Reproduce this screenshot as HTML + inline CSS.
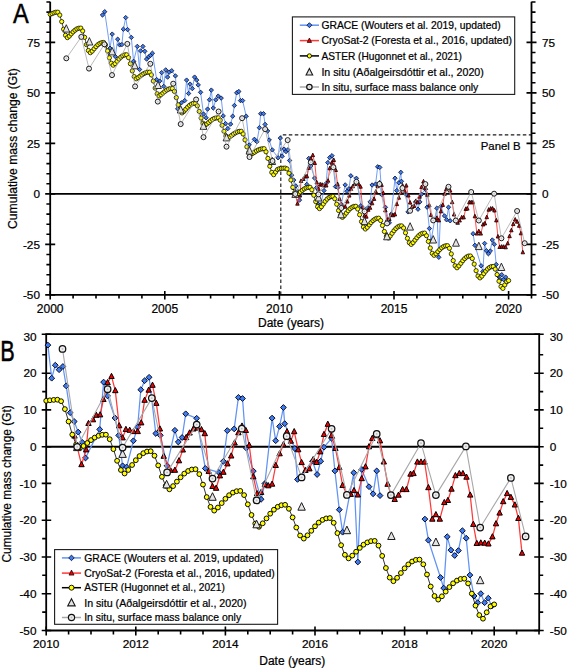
<!DOCTYPE html><html><head><meta charset="utf-8"><style>html,body{margin:0;padding:0;background:#fff;width:567px;height:668px;overflow:hidden;position:relative}</style></head><body><svg width="567" height="668" viewBox="0 0 567 668" style="position:absolute;left:0;top:0">
<rect width="567" height="668" fill="#fff"/>
<path d="M50.2 193.9H531.5" stroke="#000" stroke-width="1.9"/>
<path d="M280.8 294.9V134.9H531.5" fill="none" stroke="#1a1a1a" stroke-width="1.15" stroke-dasharray="3.5,2.5"/>
<path d="M50.2 1.7V294.9H531.5V1.7" fill="none" stroke="#000" stroke-width="1.8"/>
<path d="M45.2 294.9H55.2M526.5 294.9H536.5M46.400000000000006 284.8H50.2M531.5 284.8H535.5M46.400000000000006 274.7H50.2M531.5 274.7H535.5M46.400000000000006 264.6H50.2M531.5 264.6H535.5M46.400000000000006 254.5H50.2M531.5 254.5H535.5M45.2 244.4H55.2M526.5 244.4H536.5M46.400000000000006 234.3H50.2M531.5 234.3H535.5M46.400000000000006 224.2H50.2M531.5 224.2H535.5M46.400000000000006 214.1H50.2M531.5 214.1H535.5M46.400000000000006 204.0H50.2M531.5 204.0H535.5M45.2 193.9H55.2M526.5 193.9H536.5M46.400000000000006 183.8H50.2M531.5 183.8H535.5M46.400000000000006 173.7H50.2M531.5 173.7H535.5M46.400000000000006 163.6H50.2M531.5 163.6H535.5M46.400000000000006 153.5H50.2M531.5 153.5H535.5M45.2 143.4H55.2M526.5 143.4H536.5M46.400000000000006 133.3H50.2M531.5 133.3H535.5M46.400000000000006 123.2H50.2M531.5 123.2H535.5M46.400000000000006 113.1H50.2M531.5 113.1H535.5M46.400000000000006 103.0H50.2M531.5 103.0H535.5M45.2 92.9H55.2M526.5 92.9H536.5M46.400000000000006 82.8H50.2M531.5 82.8H535.5M46.400000000000006 72.7H50.2M531.5 72.7H535.5M46.400000000000006 62.6H50.2M531.5 62.6H535.5M46.400000000000006 52.5H50.2M531.5 52.5H535.5M45.2 42.4H55.2M526.5 42.4H536.5M46.400000000000006 32.3H50.2M531.5 32.3H535.5M46.400000000000006 22.2H50.2M531.5 22.2H535.5M46.400000000000006 12.1H50.2M531.5 12.1H535.5M46.400000000000006 2.0H50.2M531.5 2.0H535.5M50.2 290.9V299.4M73.1 294.9V298.4M96.0 294.9V298.4M119.0 294.9V298.4M141.9 294.9V298.4M164.8 290.9V299.4M187.7 294.9V298.4M210.6 294.9V298.4M233.6 294.9V298.4M256.5 294.9V298.4M279.4 290.9V299.4M302.3 294.9V298.4M325.2 294.9V298.4M348.2 294.9V298.4M371.1 294.9V298.4M394.0 290.9V299.4M416.9 294.9V298.4M439.8 294.9V298.4M462.8 294.9V298.4M485.7 294.9V298.4M508.6 290.9V299.4M531.5 294.9V298.4" stroke="#000" stroke-width="1.6"/>
<text x="40" y="299.1" font-family="Liberation Sans, sans-serif" stroke="#000" stroke-width="0.22" font-size="11.8" text-anchor="end">-50</text>
<text x="542" y="299.1" font-family="Liberation Sans, sans-serif" stroke="#000" stroke-width="0.22" font-size="11.8">-50</text>
<text x="40" y="248.6" font-family="Liberation Sans, sans-serif" stroke="#000" stroke-width="0.22" font-size="11.8" text-anchor="end">-25</text>
<text x="542" y="248.6" font-family="Liberation Sans, sans-serif" stroke="#000" stroke-width="0.22" font-size="11.8">-25</text>
<text x="40" y="198.1" font-family="Liberation Sans, sans-serif" stroke="#000" stroke-width="0.22" font-size="11.8" text-anchor="end">0</text>
<text x="542" y="198.1" font-family="Liberation Sans, sans-serif" stroke="#000" stroke-width="0.22" font-size="11.8">0</text>
<text x="40" y="147.6" font-family="Liberation Sans, sans-serif" stroke="#000" stroke-width="0.22" font-size="11.8" text-anchor="end">25</text>
<text x="542" y="147.6" font-family="Liberation Sans, sans-serif" stroke="#000" stroke-width="0.22" font-size="11.8">25</text>
<text x="40" y="97.1" font-family="Liberation Sans, sans-serif" stroke="#000" stroke-width="0.22" font-size="11.8" text-anchor="end">50</text>
<text x="542" y="97.1" font-family="Liberation Sans, sans-serif" stroke="#000" stroke-width="0.22" font-size="11.8">50</text>
<text x="40" y="46.6" font-family="Liberation Sans, sans-serif" stroke="#000" stroke-width="0.22" font-size="11.8" text-anchor="end">75</text>
<text x="542" y="46.6" font-family="Liberation Sans, sans-serif" stroke="#000" stroke-width="0.22" font-size="11.8">75</text>
<text x="50.2" y="313" font-family="Liberation Sans, sans-serif" stroke="#000" stroke-width="0.22" font-size="12" text-anchor="middle">2000</text>
<text x="164.8" y="313" font-family="Liberation Sans, sans-serif" stroke="#000" stroke-width="0.22" font-size="12" text-anchor="middle">2005</text>
<text x="279.4" y="313" font-family="Liberation Sans, sans-serif" stroke="#000" stroke-width="0.22" font-size="12" text-anchor="middle">2010</text>
<text x="394.0" y="313" font-family="Liberation Sans, sans-serif" stroke="#000" stroke-width="0.22" font-size="12" text-anchor="middle">2015</text>
<text x="508.6" y="313" font-family="Liberation Sans, sans-serif" stroke="#000" stroke-width="0.22" font-size="12" text-anchor="middle">2020</text>
<text x="291" y="326.7" font-family="Liberation Sans, sans-serif" stroke="#000" stroke-width="0.22" font-size="12" text-anchor="middle">Date (years)</text>
<text x="500.7" y="150.2" font-family="Liberation Sans, sans-serif" stroke="#000" stroke-width="0.22" font-size="11.4" text-anchor="middle">Panel B</text>
<text transform="translate(20.9,22.8) scale(0.84,1)" font-family="Liberation Sans, sans-serif" font-size="28.1" stroke="#000" stroke-width="0.5" text-anchor="middle">A</text>
<text transform="translate(16.6,148.6) rotate(-90)" font-family="Liberation Sans, sans-serif" stroke="#000" stroke-width="0.22" font-size="12.15" text-anchor="middle">Cumulative mass change (Gt)</text>
<polyline fill="none" stroke="#6193f5" stroke-width="0.9" stroke-linejoin="round" points="102.5,15.0 104.7,11.7 110.0,48.2 112.2,34.1 115.3,56.5 117.7,39.2 119.7,44.9 121.9,44.6 123.4,29.2 125.7,17.6 127.6,29.6 131.3,37.4 133.6,61.3 137.3,46.4 139.6,69.5 140.6,50.9 142.9,46.4 144.8,51.3 146.6,59.1 148.8,56.8 150.6,55.3 152.4,53.2 156.7,79.6 159.7,81.1 161.7,72.6 163.8,86.4 165.7,69.9 167.6,77.1 169.1,72.2 171.7,70.7 175.4,75.9 177.7,108.8 181.4,102.8 184.7,100.6 186.6,80.1 188.6,93.5 190.1,84.1 192.3,88.6 194.6,77.1 196.7,80.1 198.2,84.9 200.6,92.3 203.5,114.0 206.1,117.8 207.6,109.1 209.5,99.8 211.3,90.1 213.3,108.0 215.8,99.8 218.2,96.1 221.2,98.1 223.2,115.9 225.6,123.6 227.8,128.6 230.6,124.1 232.7,116.2 234.4,105.5 236.7,92.8 238.8,91.5 240.5,100.6 242.6,100.6 246.2,116.2 249.2,145.0 254.4,139.3 256.9,141.7 259.4,127.7 260.7,113.7 263.5,113.7 265.1,124.4 267.6,131.0 269.2,140.0 272.3,149.9 278.1,157.8 280.3,138.1 282.2,156.2 284.1,149.1 286.0,151.6 287.9,149.8 289.6,160.5 291.7,175.2 293.7,180.1 295.8,185.9 297.8,191.5 299.5,200.1 306.8,184.4 308.8,158.4 310.8,166.0 314.6,178.1 316.5,187.7 318.5,204.4 320.5,205.0 324.0,190.6 326.2,183.2 327.8,162.6 329.7,157.6 332.0,155.7 335.5,186.6 337.8,187.6 341.3,204.3 345.2,184.9 347.0,191.3 348.9,188.8 350.8,175.8 356.4,178.3 360.8,205.8 367.7,208.0 370.1,201.9 372.1,185.0 375.6,184.1 377.7,166.8 379.8,167.4 381.8,194.7 385.4,207.3 389.3,222.8 391.3,214.1 395.0,178.2 396.8,190.6 398.8,182.8 400.8,172.3 401.4,181.3 406.6,194.9 408.0,211.9 415.6,201.9 418.0,209.2 419.8,201.9 421.5,194.2 425.4,189.3 427.1,207.2 429.4,228.5 431.0,240.9 436.8,208.2 438.8,257.3 440.8,206.4 444.5,215.9 446.6,219.8 448.5,207.2 450.2,220.8"/>
<polyline fill="none" stroke="#6193f5" stroke-width="0.9" stroke-linejoin="round" points="473.1,233.7 474.9,245.3 481.1,265.8 482.8,271.6 484.6,243.4 486.4,250.7 488.4,253.7 490.3,251.0 492.3,240.0 494.3,244.2 496.2,264.5 498.3,276.0 500.2,279.6 501.7,274.7 503.7,279.6 505.6,277.1 507.3,281.5"/>
<g fill="#3d7ef6" stroke="#0a0a20" stroke-width="0.8"><path d="M102.5 12.8L104.7 15.0L102.5 17.2L100.3 15.0Z"/><path d="M104.7 9.5L106.9 11.7L104.7 13.9L102.5 11.7Z"/><path d="M110.0 46.0L112.2 48.2L110.0 50.4L107.8 48.2Z"/><path d="M112.2 31.9L114.4 34.1L112.2 36.3L110.0 34.1Z"/><path d="M115.3 54.3L117.5 56.5L115.3 58.7L113.1 56.5Z"/><path d="M117.7 37.0L119.9 39.2L117.7 41.4L115.5 39.2Z"/><path d="M119.7 42.7L121.9 44.9L119.7 47.1L117.5 44.9Z"/><path d="M121.9 42.4L124.1 44.6L121.9 46.8L119.7 44.6Z"/><path d="M123.4 27.0L125.6 29.2L123.4 31.4L121.2 29.2Z"/><path d="M125.7 15.4L127.9 17.6L125.7 19.8L123.5 17.6Z"/><path d="M127.6 27.4L129.8 29.6L127.6 31.8L125.4 29.6Z"/><path d="M131.3 35.2L133.5 37.4L131.3 39.6L129.1 37.4Z"/><path d="M133.6 59.1L135.8 61.3L133.6 63.5L131.4 61.3Z"/><path d="M137.3 44.2L139.5 46.4L137.3 48.6L135.1 46.4Z"/><path d="M139.6 67.3L141.8 69.5L139.6 71.7L137.4 69.5Z"/><path d="M140.6 48.7L142.8 50.9L140.6 53.1L138.4 50.9Z"/><path d="M142.9 44.2L145.1 46.4L142.9 48.6L140.7 46.4Z"/><path d="M144.8 49.1L147.0 51.3L144.8 53.5L142.6 51.3Z"/><path d="M146.6 56.9L148.8 59.1L146.6 61.3L144.4 59.1Z"/><path d="M148.8 54.6L151.0 56.8L148.8 59.0L146.6 56.8Z"/><path d="M150.6 53.1L152.8 55.3L150.6 57.5L148.4 55.3Z"/><path d="M152.4 51.0L154.6 53.2L152.4 55.4L150.2 53.2Z"/><path d="M156.7 77.4L158.9 79.6L156.7 81.8L154.5 79.6Z"/><path d="M159.7 78.9L161.9 81.1L159.7 83.3L157.5 81.1Z"/><path d="M161.7 70.4L163.9 72.6L161.7 74.8L159.5 72.6Z"/><path d="M163.8 84.2L166.0 86.4L163.8 88.6L161.6 86.4Z"/><path d="M165.7 67.7L167.9 69.9L165.7 72.1L163.5 69.9Z"/><path d="M167.6 74.9L169.8 77.1L167.6 79.3L165.4 77.1Z"/><path d="M169.1 70.0L171.3 72.2L169.1 74.4L166.9 72.2Z"/><path d="M171.7 68.5L173.9 70.7L171.7 72.9L169.5 70.7Z"/><path d="M175.4 73.7L177.6 75.9L175.4 78.1L173.2 75.9Z"/><path d="M177.7 106.6L179.9 108.8L177.7 111.0L175.5 108.8Z"/><path d="M181.4 100.6L183.6 102.8L181.4 105.0L179.2 102.8Z"/><path d="M184.7 98.4L186.9 100.6L184.7 102.8L182.5 100.6Z"/><path d="M186.6 77.9L188.8 80.1L186.6 82.3L184.4 80.1Z"/><path d="M188.6 91.3L190.8 93.5L188.6 95.7L186.4 93.5Z"/><path d="M190.1 81.9L192.3 84.1L190.1 86.3L187.9 84.1Z"/><path d="M192.3 86.4L194.5 88.6L192.3 90.8L190.1 88.6Z"/><path d="M194.6 74.9L196.8 77.1L194.6 79.3L192.4 77.1Z"/><path d="M196.7 77.9L198.9 80.1L196.7 82.3L194.5 80.1Z"/><path d="M198.2 82.7L200.4 84.9L198.2 87.1L196.0 84.9Z"/><path d="M200.6 90.1L202.8 92.3L200.6 94.5L198.4 92.3Z"/><path d="M203.5 111.8L205.7 114.0L203.5 116.2L201.3 114.0Z"/><path d="M206.1 115.6L208.3 117.8L206.1 120.0L203.9 117.8Z"/><path d="M207.6 106.9L209.8 109.1L207.6 111.3L205.4 109.1Z"/><path d="M209.5 97.6L211.7 99.8L209.5 102.0L207.3 99.8Z"/><path d="M211.3 87.9L213.5 90.1L211.3 92.3L209.1 90.1Z"/><path d="M213.3 105.8L215.5 108.0L213.3 110.2L211.1 108.0Z"/><path d="M215.8 97.6L218.0 99.8L215.8 102.0L213.6 99.8Z"/><path d="M218.2 93.9L220.4 96.1L218.2 98.3L216.0 96.1Z"/><path d="M221.2 95.9L223.4 98.1L221.2 100.3L219.0 98.1Z"/><path d="M223.2 113.7L225.4 115.9L223.2 118.1L221.0 115.9Z"/><path d="M225.6 121.4L227.8 123.6L225.6 125.8L223.4 123.6Z"/><path d="M227.8 126.4L230.0 128.6L227.8 130.8L225.6 128.6Z"/><path d="M230.6 121.9L232.8 124.1L230.6 126.3L228.4 124.1Z"/><path d="M232.7 114.0L234.9 116.2L232.7 118.4L230.5 116.2Z"/><path d="M234.4 103.3L236.6 105.5L234.4 107.7L232.2 105.5Z"/><path d="M236.7 90.6L238.9 92.8L236.7 95.0L234.5 92.8Z"/><path d="M238.8 89.3L241.0 91.5L238.8 93.7L236.6 91.5Z"/><path d="M240.5 98.4L242.7 100.6L240.5 102.8L238.3 100.6Z"/><path d="M242.6 98.4L244.8 100.6L242.6 102.8L240.4 100.6Z"/><path d="M246.2 114.0L248.4 116.2L246.2 118.4L244.0 116.2Z"/><path d="M249.2 142.8L251.4 145.0L249.2 147.2L247.0 145.0Z"/><path d="M254.4 137.1L256.6 139.3L254.4 141.5L252.2 139.3Z"/><path d="M256.9 139.5L259.1 141.7L256.9 143.9L254.7 141.7Z"/><path d="M259.4 125.5L261.6 127.7L259.4 129.9L257.2 127.7Z"/><path d="M260.7 111.5L262.9 113.7L260.7 115.9L258.5 113.7Z"/><path d="M263.5 111.5L265.7 113.7L263.5 115.9L261.3 113.7Z"/><path d="M265.1 122.2L267.3 124.4L265.1 126.6L262.9 124.4Z"/><path d="M267.6 128.8L269.8 131.0L267.6 133.2L265.4 131.0Z"/><path d="M269.2 137.8L271.4 140.0L269.2 142.2L267.0 140.0Z"/><path d="M272.3 147.7L274.5 149.9L272.3 152.1L270.1 149.9Z"/><path d="M278.1 155.6L280.3 157.8L278.1 160.0L275.9 157.8Z"/><path d="M280.3 135.9L282.5 138.1L280.3 140.3L278.1 138.1Z"/><path d="M282.2 154.0L284.4 156.2L282.2 158.4L280.0 156.2Z"/><path d="M284.1 146.9L286.3 149.1L284.1 151.3L281.9 149.1Z"/><path d="M286.0 149.4L288.2 151.6L286.0 153.8L283.8 151.6Z"/><path d="M287.9 147.6L290.1 149.8L287.9 152.0L285.7 149.8Z"/><path d="M289.6 158.3L291.8 160.5L289.6 162.7L287.4 160.5Z"/><path d="M291.7 173.0L293.9 175.2L291.7 177.4L289.5 175.2Z"/><path d="M293.7 177.9L295.9 180.1L293.7 182.3L291.5 180.1Z"/><path d="M295.8 183.7L298.0 185.9L295.8 188.1L293.6 185.9Z"/><path d="M297.8 189.3L300.0 191.5L297.8 193.7L295.6 191.5Z"/><path d="M299.5 197.9L301.7 200.1L299.5 202.3L297.3 200.1Z"/><path d="M306.8 182.2L309.0 184.4L306.8 186.6L304.6 184.4Z"/><path d="M308.8 156.2L311.0 158.4L308.8 160.6L306.6 158.4Z"/><path d="M310.8 163.8L313.0 166.0L310.8 168.2L308.6 166.0Z"/><path d="M314.6 175.9L316.8 178.1L314.6 180.3L312.4 178.1Z"/><path d="M316.5 185.5L318.7 187.7L316.5 189.9L314.3 187.7Z"/><path d="M318.5 202.2L320.7 204.4L318.5 206.6L316.3 204.4Z"/><path d="M320.5 202.8L322.7 205.0L320.5 207.2L318.3 205.0Z"/><path d="M324.0 188.4L326.2 190.6L324.0 192.8L321.8 190.6Z"/><path d="M326.2 181.0L328.4 183.2L326.2 185.4L324.0 183.2Z"/><path d="M327.8 160.4L330.0 162.6L327.8 164.8L325.6 162.6Z"/><path d="M329.7 155.4L331.9 157.6L329.7 159.8L327.5 157.6Z"/><path d="M332.0 153.5L334.2 155.7L332.0 157.9L329.8 155.7Z"/><path d="M335.5 184.4L337.7 186.6L335.5 188.8L333.3 186.6Z"/><path d="M337.8 185.4L340.0 187.6L337.8 189.8L335.6 187.6Z"/><path d="M341.3 202.1L343.5 204.3L341.3 206.5L339.1 204.3Z"/><path d="M345.2 182.7L347.4 184.9L345.2 187.1L343.0 184.9Z"/><path d="M347.0 189.1L349.2 191.3L347.0 193.5L344.8 191.3Z"/><path d="M348.9 186.6L351.1 188.8L348.9 191.0L346.7 188.8Z"/><path d="M350.8 173.6L353.0 175.8L350.8 178.0L348.6 175.8Z"/><path d="M356.4 176.1L358.6 178.3L356.4 180.5L354.2 178.3Z"/><path d="M360.8 203.6L363.0 205.8L360.8 208.0L358.6 205.8Z"/><path d="M367.7 205.8L369.9 208.0L367.7 210.2L365.5 208.0Z"/><path d="M370.1 199.7L372.3 201.9L370.1 204.1L367.9 201.9Z"/><path d="M372.1 182.8L374.3 185.0L372.1 187.2L369.9 185.0Z"/><path d="M375.6 181.9L377.8 184.1L375.6 186.3L373.4 184.1Z"/><path d="M377.7 164.6L379.9 166.8L377.7 169.0L375.5 166.8Z"/><path d="M379.8 165.2L382.0 167.4L379.8 169.6L377.6 167.4Z"/><path d="M381.8 192.5L384.0 194.7L381.8 196.9L379.6 194.7Z"/><path d="M385.4 205.1L387.6 207.3L385.4 209.5L383.2 207.3Z"/><path d="M389.3 220.6L391.5 222.8L389.3 225.0L387.1 222.8Z"/><path d="M391.3 211.9L393.5 214.1L391.3 216.3L389.1 214.1Z"/><path d="M395.0 176.0L397.2 178.2L395.0 180.4L392.8 178.2Z"/><path d="M396.8 188.4L399.0 190.6L396.8 192.8L394.6 190.6Z"/><path d="M398.8 180.6L401.0 182.8L398.8 185.0L396.6 182.8Z"/><path d="M400.8 170.1L403.0 172.3L400.8 174.5L398.6 172.3Z"/><path d="M401.4 179.1L403.6 181.3L401.4 183.5L399.2 181.3Z"/><path d="M406.6 192.7L408.8 194.9L406.6 197.1L404.4 194.9Z"/><path d="M408.0 209.7L410.2 211.9L408.0 214.1L405.8 211.9Z"/><path d="M415.6 199.7L417.8 201.9L415.6 204.1L413.4 201.9Z"/><path d="M418.0 207.0L420.2 209.2L418.0 211.4L415.8 209.2Z"/><path d="M419.8 199.7L422.0 201.9L419.8 204.1L417.6 201.9Z"/><path d="M421.5 192.0L423.7 194.2L421.5 196.4L419.3 194.2Z"/><path d="M425.4 187.1L427.6 189.3L425.4 191.5L423.2 189.3Z"/><path d="M427.1 205.0L429.3 207.2L427.1 209.4L424.9 207.2Z"/><path d="M429.4 226.3L431.6 228.5L429.4 230.7L427.2 228.5Z"/><path d="M431.0 238.7L433.2 240.9L431.0 243.1L428.8 240.9Z"/><path d="M436.8 206.0L439.0 208.2L436.8 210.4L434.6 208.2Z"/><path d="M438.8 255.1L441.0 257.3L438.8 259.5L436.6 257.3Z"/><path d="M440.8 204.2L443.0 206.4L440.8 208.6L438.6 206.4Z"/><path d="M444.5 213.7L446.7 215.9L444.5 218.1L442.3 215.9Z"/><path d="M446.6 217.6L448.8 219.8L446.6 222.0L444.4 219.8Z"/><path d="M448.5 205.0L450.7 207.2L448.5 209.4L446.3 207.2Z"/><path d="M450.2 218.6L452.4 220.8L450.2 223.0L448.0 220.8Z"/><path d="M473.1 231.5L475.3 233.7L473.1 235.9L470.9 233.7Z"/><path d="M474.9 243.1L477.1 245.3L474.9 247.5L472.7 245.3Z"/><path d="M481.1 263.6L483.3 265.8L481.1 268.0L478.9 265.8Z"/><path d="M482.8 269.4L485.0 271.6L482.8 273.8L480.6 271.6Z"/><path d="M484.6 241.2L486.8 243.4L484.6 245.6L482.4 243.4Z"/><path d="M486.4 248.5L488.6 250.7L486.4 252.9L484.2 250.7Z"/><path d="M488.4 251.5L490.6 253.7L488.4 255.9L486.2 253.7Z"/><path d="M490.3 248.8L492.5 251.0L490.3 253.2L488.1 251.0Z"/><path d="M492.3 237.8L494.5 240.0L492.3 242.2L490.1 240.0Z"/><path d="M494.3 242.0L496.5 244.2L494.3 246.4L492.1 244.2Z"/><path d="M496.2 262.3L498.4 264.5L496.2 266.7L494.0 264.5Z"/><path d="M498.3 273.8L500.5 276.0L498.3 278.2L496.1 276.0Z"/><path d="M500.2 277.4L502.4 279.6L500.2 281.8L498.0 279.6Z"/><path d="M501.7 272.5L503.9 274.7L501.7 276.9L499.5 274.7Z"/><path d="M503.7 277.4L505.9 279.6L503.7 281.8L501.5 279.6Z"/><path d="M505.6 274.9L507.8 277.1L505.6 279.3L503.4 277.1Z"/><path d="M507.3 279.3L509.5 281.5L507.3 283.7L505.1 281.5Z"/></g>
<polyline fill="none" stroke="#ff3838" stroke-width="0.9" stroke-linejoin="round" points="293.9,188.1 297.5,203.8 299.9,195.6 301.0,181.1 303.3,179.1 305.0,176.6 307.0,176.4 308.7,167.9 310.8,158.7 312.8,155.3 314.8,163.1 316.7,182.4 318.5,189.0 320.2,184.4 322.1,184.9 324.1,185.6 326.2,185.6 328.0,180.8 329.7,168.4 331.8,162.8 333.8,160.1 335.7,170.0 337.6,184.1 339.5,199.1 342.9,206.8 345.2,206.8 347.3,201.6 349.3,195.7 351.0,188.8 352.8,186.3 354.7,184.1 356.8,183.6 358.9,184.5 360.5,186.7 362.5,207.4 364.5,215.7 366.3,216.7 368.3,209.9 370.1,207.9 372.1,203.3 374.0,199.0 375.8,191.8 377.7,186.2 379.6,182.5 381.5,185.0 383.3,193.1 385.4,210.4 387.3,219.7 389.3,219.0 391.3,214.7 393.0,215.3 395.0,214.5 396.8,204.2 398.8,197.8 400.8,192.8 402.6,185.6 404.5,190.8 406.3,185.6 408.3,195.6 410.1,202.6 412.0,206.9 414.1,206.1 416.0,201.0 417.7,202.6 419.6,196.7 421.5,187.2 423.5,181.6 425.4,187.8 427.4,194.8 429.4,205.4 431.0,215.2 433.2,220.1 435.2,220.1 436.9,218.0 438.8,220.4 440.8,211.4 442.8,205.0 444.5,193.9 446.2,189.3 448.2,187.8 450.2,190.6 452.1,202.3 454.1,214.5 456.0,220.8 457.7,222.9 459.6,220.5 461.7,217.4 463.7,217.4 465.8,209.0 467.3,208.6 469.3,202.3 471.2,202.3 473.0,202.3 474.9,216.4 476.9,233.7 478.8,231.2 480.8,233.7 483.1,224.6 484.9,223.5 486.8,217.2 488.7,209.8 490.7,208.6 492.6,208.6 494.4,210.6 496.3,220.5 497.9,236.6 499.7,247.0 501.7,246.8 503.7,246.9 505.6,247.3 507.7,243.5 509.5,236.2 511.4,230.3 513.2,224.1 515.2,219.6 517.1,221.7 519.2,225.9 521.0,233.3 522.8,252.4"/>
<g fill="#f20000" stroke="#000" stroke-width="0.8"><path d="M293.9 185.9L295.6 189.5L292.1 189.5Z"/><path d="M297.5 201.6L299.2 205.2L295.7 205.2Z"/><path d="M299.9 193.4L301.6 197.0L298.1 197.0Z"/><path d="M301.0 178.9L302.8 182.5L299.3 182.5Z"/><path d="M303.3 176.9L305.1 180.5L301.6 180.5Z"/><path d="M305.0 174.4L306.8 178.0L303.3 178.0Z"/><path d="M307.0 174.2L308.7 177.8L305.2 177.8Z"/><path d="M308.7 165.8L310.4 169.4L306.9 169.4Z"/><path d="M310.8 156.5L312.6 160.1L309.1 160.1Z"/><path d="M312.8 153.1L314.6 156.7L311.1 156.7Z"/><path d="M314.8 160.9L316.5 164.5L313.0 164.5Z"/><path d="M316.7 180.2L318.5 183.8L315.0 183.8Z"/><path d="M318.5 186.8L320.2 190.4L316.7 190.4Z"/><path d="M320.2 182.3L321.9 185.9L318.4 185.9Z"/><path d="M322.1 182.7L323.9 186.3L320.4 186.3Z"/><path d="M324.1 183.4L325.8 187.0L322.3 187.0Z"/><path d="M326.2 183.4L328.0 187.0L324.5 187.0Z"/><path d="M328.0 178.6L329.8 182.2L326.3 182.2Z"/><path d="M329.7 166.2L331.5 169.8L328.0 169.8Z"/><path d="M331.8 160.6L333.6 164.2L330.1 164.2Z"/><path d="M333.8 157.9L335.5 161.5L332.0 161.5Z"/><path d="M335.7 167.9L337.5 171.5L334.0 171.5Z"/><path d="M337.6 182.0L339.3 185.6L335.8 185.6Z"/><path d="M339.5 197.0L341.3 200.6L337.8 200.6Z"/><path d="M342.9 204.6L344.7 208.2L341.2 208.2Z"/><path d="M345.2 204.6L347.0 208.2L343.5 208.2Z"/><path d="M347.3 199.5L349.1 203.1L345.6 203.1Z"/><path d="M349.3 193.5L351.0 197.1L347.5 197.1Z"/><path d="M351.0 186.7L352.8 190.3L349.3 190.3Z"/><path d="M352.8 184.2L354.5 187.8L351.0 187.8Z"/><path d="M354.7 182.0L356.5 185.6L353.0 185.6Z"/><path d="M356.8 181.5L358.5 185.1L355.0 185.1Z"/><path d="M358.9 182.4L360.6 186.0L357.1 186.0Z"/><path d="M360.5 184.6L362.3 188.2L358.8 188.2Z"/><path d="M362.5 205.2L364.3 208.8L360.8 208.8Z"/><path d="M364.5 213.6L366.2 217.2L362.7 217.2Z"/><path d="M366.3 214.6L368.1 218.2L364.6 218.2Z"/><path d="M368.3 207.7L370.0 211.3L366.5 211.3Z"/><path d="M370.1 205.7L371.8 209.3L368.3 209.3Z"/><path d="M372.1 201.2L373.9 204.8L370.4 204.8Z"/><path d="M374.0 196.8L375.8 200.4L372.3 200.4Z"/><path d="M375.8 189.6L377.5 193.2L374.0 193.2Z"/><path d="M377.7 184.1L379.5 187.7L376.0 187.7Z"/><path d="M379.6 180.4L381.3 184.0L377.8 184.0Z"/><path d="M381.5 182.8L383.3 186.4L379.8 186.4Z"/><path d="M383.3 190.9L385.0 194.5L381.5 194.5Z"/><path d="M385.4 208.2L387.1 211.8L383.6 211.8Z"/><path d="M387.3 217.5L389.0 221.1L385.5 221.1Z"/><path d="M389.3 216.9L391.1 220.5L387.6 220.5Z"/><path d="M391.3 212.6L393.0 216.2L389.5 216.2Z"/><path d="M393.0 213.2L394.8 216.8L391.3 216.8Z"/><path d="M395.0 212.3L396.7 215.9L393.2 215.9Z"/><path d="M396.8 202.0L398.6 205.6L395.1 205.6Z"/><path d="M398.8 195.6L400.6 199.2L397.1 199.2Z"/><path d="M400.8 190.6L402.5 194.2L399.0 194.2Z"/><path d="M402.6 183.5L404.3 187.1L400.8 187.1Z"/><path d="M404.5 188.7L406.3 192.3L402.8 192.3Z"/><path d="M406.3 183.5L408.0 187.1L404.5 187.1Z"/><path d="M408.3 193.4L410.1 197.0L406.6 197.0Z"/><path d="M410.1 200.5L411.8 204.1L408.3 204.1Z"/><path d="M412.0 204.8L413.8 208.4L410.3 208.4Z"/><path d="M414.1 203.9L415.8 207.5L412.3 207.5Z"/><path d="M416.0 198.9L417.7 202.5L414.2 202.5Z"/><path d="M417.7 200.4L419.5 204.0L416.0 204.0Z"/><path d="M419.6 194.6L421.3 198.2L417.8 198.2Z"/><path d="M421.5 185.0L423.3 188.6L419.8 188.6Z"/><path d="M423.5 179.4L425.2 183.0L421.7 183.0Z"/><path d="M425.4 185.7L427.2 189.3L423.7 189.3Z"/><path d="M427.4 192.7L429.1 196.3L425.6 196.3Z"/><path d="M429.4 203.2L431.1 206.8L427.6 206.8Z"/><path d="M431.0 213.0L432.8 216.6L429.3 216.6Z"/><path d="M433.2 217.9L435.0 221.5L431.5 221.5Z"/><path d="M435.2 217.9L436.9 221.5L433.4 221.5Z"/><path d="M436.9 215.8L438.6 219.4L435.1 219.4Z"/><path d="M438.8 218.3L440.6 221.9L437.1 221.9Z"/><path d="M440.8 209.3L442.6 212.9L439.1 212.9Z"/><path d="M442.8 202.8L444.5 206.4L441.0 206.4Z"/><path d="M444.5 191.7L446.3 195.3L442.8 195.3Z"/><path d="M446.2 187.1L448.0 190.7L444.5 190.7Z"/><path d="M448.2 185.7L450.0 189.3L446.5 189.3Z"/><path d="M450.2 188.5L451.9 192.1L448.4 192.1Z"/><path d="M452.1 200.1L453.9 203.7L450.4 203.7Z"/><path d="M454.1 212.4L455.8 216.0L452.3 216.0Z"/><path d="M456.0 218.6L457.8 222.2L454.3 222.2Z"/><path d="M457.7 220.7L459.4 224.3L455.9 224.3Z"/><path d="M459.6 218.4L461.4 222.0L457.9 222.0Z"/><path d="M461.7 215.3L463.5 218.9L460.0 218.9Z"/><path d="M463.7 215.3L465.4 218.9L461.9 218.9Z"/><path d="M465.8 206.8L467.5 210.4L464.0 210.4Z"/><path d="M467.3 206.5L469.1 210.1L465.6 210.1Z"/><path d="M469.3 200.2L471.1 203.8L467.6 203.8Z"/><path d="M471.2 200.2L472.9 203.8L469.4 203.8Z"/><path d="M473.0 200.2L474.7 203.8L471.2 203.8Z"/><path d="M474.9 214.2L476.7 217.8L473.2 217.8Z"/><path d="M476.9 231.5L478.7 235.1L475.2 235.1Z"/><path d="M478.8 229.1L480.5 232.7L477.0 232.7Z"/><path d="M480.8 231.5L482.5 235.1L479.0 235.1Z"/><path d="M483.1 222.4L484.8 226.0L481.3 226.0Z"/><path d="M484.9 221.3L486.7 224.9L483.2 224.9Z"/><path d="M486.8 215.1L488.5 218.7L485.0 218.7Z"/><path d="M488.7 207.6L490.5 211.2L487.0 211.2Z"/><path d="M490.7 206.5L492.5 210.1L489.0 210.1Z"/><path d="M492.6 206.5L494.3 210.1L490.8 210.1Z"/><path d="M494.4 208.4L496.2 212.0L492.7 212.0Z"/><path d="M496.3 218.3L498.1 221.9L494.6 221.9Z"/><path d="M497.9 234.4L499.7 238.0L496.2 238.0Z"/><path d="M499.7 244.9L501.4 248.5L497.9 248.5Z"/><path d="M501.7 244.6L503.5 248.2L500.0 248.2Z"/><path d="M503.7 244.7L505.5 248.3L502.0 248.3Z"/><path d="M505.6 245.2L507.4 248.8L503.9 248.8Z"/><path d="M507.7 241.3L509.4 244.9L505.9 244.9Z"/><path d="M509.5 234.1L511.3 237.7L507.8 237.7Z"/><path d="M511.4 228.2L513.1 231.8L509.6 231.8Z"/><path d="M513.2 222.0L515.0 225.6L511.5 225.6Z"/><path d="M515.2 217.5L516.9 221.1L513.4 221.1Z"/><path d="M517.1 219.6L518.9 223.2L515.4 223.2Z"/><path d="M519.2 223.7L520.9 227.3L517.4 227.3Z"/><path d="M521.0 231.2L522.7 234.8L519.2 234.8Z"/><path d="M522.8 250.2L524.6 253.8L521.1 253.8Z"/></g>
<polyline fill="none" stroke="#000" stroke-width="0.7" stroke-linejoin="round" points="50.2,14.3 52.1,13.6 54.0,12.8 55.9,12.2 57.8,12.2 59.8,15.1 61.7,21.6 63.6,29.2 65.5,35.3 67.4,37.6 69.3,36.1 71.2,33.9 73.1,31.9 75.0,30.2 76.9,28.9 78.9,28.2 80.8,28.1 82.7,31.0 84.6,37.3 86.5,44.6 88.4,50.5 90.3,52.7 92.2,51.1 94.1,48.8 96.0,46.6 97.9,44.7 99.9,43.4 101.8,42.6 103.7,42.5 105.6,45.1 107.5,50.9 109.4,57.8 111.3,63.2 113.2,65.2 115.1,63.6 117.1,61.2 119.0,59.0 120.9,57.1 122.8,55.7 124.7,54.9 126.6,54.8 128.5,57.6 130.4,63.7 132.3,70.9 134.2,76.6 136.2,78.8 138.1,77.7 140.0,76.2 141.9,74.8 143.8,73.6 145.7,72.7 147.6,72.2 149.5,72.2 151.4,74.9 153.3,81.0 155.2,88.1 157.2,93.8 159.1,95.9 161.0,94.7 162.9,93.1 164.8,91.5 166.7,90.1 168.6,89.1 170.5,88.6 172.4,88.5 174.4,91.4 176.3,97.6 178.2,104.9 180.1,110.7 182.0,112.9 183.9,111.4 185.8,109.2 187.7,107.1 189.6,105.4 191.5,104.1 193.4,103.4 195.4,103.3 197.3,105.8 199.2,111.4 201.1,118.0 203.0,123.2 204.9,125.2 206.8,124.0 208.7,122.4 210.6,120.8 212.5,119.4 214.5,118.4 216.4,117.9 218.3,117.8 220.2,120.2 222.1,125.3 224.0,131.3 225.9,136.1 227.8,137.9 229.7,136.9 231.7,135.4 233.6,134.0 235.5,132.8 237.4,131.9 239.3,131.4 241.2,131.3 243.1,134.0 245.0,139.9 246.9,146.8 248.8,152.2 250.8,154.3 252.7,153.4 254.6,152.2 256.5,150.9 258.4,149.9 260.3,149.2 262.2,148.8 264.1,148.7 266.0,151.8 267.9,158.4 269.8,166.2 271.8,172.4 273.7,174.7 275.6,172.0 277.5,169.5 279.4,168.7 281.3,168.4 283.2,168.2 285.1,168.1 287.0,168.9 289.0,173.2 290.9,180.0 292.8,187.3 294.7,192.7 296.6,194.7 298.5,193.5 300.4,191.9 302.3,190.3 304.2,188.9 306.1,187.9 308.1,187.4 310.0,187.3 311.9,189.8 313.8,195.2 315.7,201.6 317.6,206.7 319.5,208.6 321.4,206.7 323.3,204.0 325.2,201.3 327.1,199.1 329.1,197.5 331.0,196.6 332.9,196.4 334.8,198.8 336.7,204.2 338.6,210.5 340.5,215.4 342.4,217.3 344.3,215.6 346.3,213.1 348.2,210.7 350.1,208.7 352.0,207.3 353.9,206.4 355.8,206.3 357.7,209.0 359.6,214.7 361.5,221.6 363.4,227.0 365.4,229.0 367.3,227.3 369.2,224.9 371.1,222.5 373.0,220.6 374.9,219.2 376.8,218.3 378.7,218.2 380.6,220.5 382.5,225.5 384.4,231.5 386.4,236.2 388.3,237.9 390.2,236.0 392.1,233.3 394.0,230.7 395.9,228.5 397.8,226.9 399.7,226.0 401.6,225.9 403.6,228.0 405.5,232.8 407.4,238.3 409.3,242.7 411.2,244.4 413.1,242.6 415.0,240.1 416.9,237.7 418.8,235.6 420.7,234.1 422.7,233.3 424.6,233.1 426.5,235.7 428.4,241.4 430.3,248.0 432.2,253.3 434.1,255.3 436.0,253.8 437.9,251.6 439.8,249.5 441.7,247.8 443.7,246.5 445.6,245.8 447.5,245.7 449.4,248.3 451.3,253.9 453.2,260.6 455.1,265.8 457.0,267.8 458.9,265.9 460.9,263.3 462.8,260.7 464.7,258.6 466.6,257.0 468.5,256.1 470.4,256.0 472.3,258.5 474.2,264.1 476.1,270.7 478.0,276.0 480.0,277.9 481.9,276.1 483.8,273.6 485.7,271.1 487.6,269.0 489.5,267.5 491.4,266.6 493.3,266.5 495.2,269.1 497.1,274.6 499.0,281.2 501.0,286.5 502.9,288.4 504.8,284.9 506.7,281.7 508.6,280.6"/>
<g fill="#ffff00" stroke="#000" stroke-width="0.75"><circle cx="50.2" cy="14.3" r="2.12"/><circle cx="52.1" cy="13.6" r="2.12"/><circle cx="54.0" cy="12.8" r="2.12"/><circle cx="55.9" cy="12.2" r="2.12"/><circle cx="57.8" cy="12.2" r="2.12"/><circle cx="59.8" cy="15.1" r="2.12"/><circle cx="61.7" cy="21.6" r="2.12"/><circle cx="63.6" cy="29.2" r="2.12"/><circle cx="65.5" cy="35.3" r="2.12"/><circle cx="67.4" cy="37.6" r="2.12"/><circle cx="69.3" cy="36.1" r="2.12"/><circle cx="71.2" cy="33.9" r="2.12"/><circle cx="73.1" cy="31.9" r="2.12"/><circle cx="75.0" cy="30.2" r="2.12"/><circle cx="76.9" cy="28.9" r="2.12"/><circle cx="78.9" cy="28.2" r="2.12"/><circle cx="80.8" cy="28.1" r="2.12"/><circle cx="82.7" cy="31.0" r="2.12"/><circle cx="84.6" cy="37.3" r="2.12"/><circle cx="86.5" cy="44.6" r="2.12"/><circle cx="88.4" cy="50.5" r="2.12"/><circle cx="90.3" cy="52.7" r="2.12"/><circle cx="92.2" cy="51.1" r="2.12"/><circle cx="94.1" cy="48.8" r="2.12"/><circle cx="96.0" cy="46.6" r="2.12"/><circle cx="97.9" cy="44.7" r="2.12"/><circle cx="99.9" cy="43.4" r="2.12"/><circle cx="101.8" cy="42.6" r="2.12"/><circle cx="103.7" cy="42.5" r="2.12"/><circle cx="105.6" cy="45.1" r="2.12"/><circle cx="107.5" cy="50.9" r="2.12"/><circle cx="109.4" cy="57.8" r="2.12"/><circle cx="111.3" cy="63.2" r="2.12"/><circle cx="113.2" cy="65.2" r="2.12"/><circle cx="115.1" cy="63.6" r="2.12"/><circle cx="117.1" cy="61.2" r="2.12"/><circle cx="119.0" cy="59.0" r="2.12"/><circle cx="120.9" cy="57.1" r="2.12"/><circle cx="122.8" cy="55.7" r="2.12"/><circle cx="124.7" cy="54.9" r="2.12"/><circle cx="126.6" cy="54.8" r="2.12"/><circle cx="128.5" cy="57.6" r="2.12"/><circle cx="130.4" cy="63.7" r="2.12"/><circle cx="132.3" cy="70.9" r="2.12"/><circle cx="134.2" cy="76.6" r="2.12"/><circle cx="136.2" cy="78.8" r="2.12"/><circle cx="138.1" cy="77.7" r="2.12"/><circle cx="140.0" cy="76.2" r="2.12"/><circle cx="141.9" cy="74.8" r="2.12"/><circle cx="143.8" cy="73.6" r="2.12"/><circle cx="145.7" cy="72.7" r="2.12"/><circle cx="147.6" cy="72.2" r="2.12"/><circle cx="149.5" cy="72.2" r="2.12"/><circle cx="151.4" cy="74.9" r="2.12"/><circle cx="153.3" cy="81.0" r="2.12"/><circle cx="155.2" cy="88.1" r="2.12"/><circle cx="157.2" cy="93.8" r="2.12"/><circle cx="159.1" cy="95.9" r="2.12"/><circle cx="161.0" cy="94.7" r="2.12"/><circle cx="162.9" cy="93.1" r="2.12"/><circle cx="164.8" cy="91.5" r="2.12"/><circle cx="166.7" cy="90.1" r="2.12"/><circle cx="168.6" cy="89.1" r="2.12"/><circle cx="170.5" cy="88.6" r="2.12"/><circle cx="172.4" cy="88.5" r="2.12"/><circle cx="174.4" cy="91.4" r="2.12"/><circle cx="176.3" cy="97.6" r="2.12"/><circle cx="178.2" cy="104.9" r="2.12"/><circle cx="180.1" cy="110.7" r="2.12"/><circle cx="182.0" cy="112.9" r="2.12"/><circle cx="183.9" cy="111.4" r="2.12"/><circle cx="185.8" cy="109.2" r="2.12"/><circle cx="187.7" cy="107.1" r="2.12"/><circle cx="189.6" cy="105.4" r="2.12"/><circle cx="191.5" cy="104.1" r="2.12"/><circle cx="193.4" cy="103.4" r="2.12"/><circle cx="195.4" cy="103.3" r="2.12"/><circle cx="197.3" cy="105.8" r="2.12"/><circle cx="199.2" cy="111.4" r="2.12"/><circle cx="201.1" cy="118.0" r="2.12"/><circle cx="203.0" cy="123.2" r="2.12"/><circle cx="204.9" cy="125.2" r="2.12"/><circle cx="206.8" cy="124.0" r="2.12"/><circle cx="208.7" cy="122.4" r="2.12"/><circle cx="210.6" cy="120.8" r="2.12"/><circle cx="212.5" cy="119.4" r="2.12"/><circle cx="214.5" cy="118.4" r="2.12"/><circle cx="216.4" cy="117.9" r="2.12"/><circle cx="218.3" cy="117.8" r="2.12"/><circle cx="220.2" cy="120.2" r="2.12"/><circle cx="222.1" cy="125.3" r="2.12"/><circle cx="224.0" cy="131.3" r="2.12"/><circle cx="225.9" cy="136.1" r="2.12"/><circle cx="227.8" cy="137.9" r="2.12"/><circle cx="229.7" cy="136.9" r="2.12"/><circle cx="231.7" cy="135.4" r="2.12"/><circle cx="233.6" cy="134.0" r="2.12"/><circle cx="235.5" cy="132.8" r="2.12"/><circle cx="237.4" cy="131.9" r="2.12"/><circle cx="239.3" cy="131.4" r="2.12"/><circle cx="241.2" cy="131.3" r="2.12"/><circle cx="243.1" cy="134.0" r="2.12"/><circle cx="245.0" cy="139.9" r="2.12"/><circle cx="246.9" cy="146.8" r="2.12"/><circle cx="248.8" cy="152.2" r="2.12"/><circle cx="250.8" cy="154.3" r="2.12"/><circle cx="252.7" cy="153.4" r="2.12"/><circle cx="254.6" cy="152.2" r="2.12"/><circle cx="256.5" cy="150.9" r="2.12"/><circle cx="258.4" cy="149.9" r="2.12"/><circle cx="260.3" cy="149.2" r="2.12"/><circle cx="262.2" cy="148.8" r="2.12"/><circle cx="264.1" cy="148.7" r="2.12"/><circle cx="266.0" cy="151.8" r="2.12"/><circle cx="267.9" cy="158.4" r="2.12"/><circle cx="269.8" cy="166.2" r="2.12"/><circle cx="271.8" cy="172.4" r="2.12"/><circle cx="273.7" cy="174.7" r="2.12"/><circle cx="275.6" cy="172.0" r="2.12"/><circle cx="277.5" cy="169.5" r="2.12"/><circle cx="279.4" cy="168.7" r="2.12"/><circle cx="281.3" cy="168.4" r="2.12"/><circle cx="283.2" cy="168.2" r="2.12"/><circle cx="285.1" cy="168.1" r="2.12"/><circle cx="287.0" cy="168.9" r="2.12"/><circle cx="289.0" cy="173.2" r="2.12"/><circle cx="290.9" cy="180.0" r="2.12"/><circle cx="292.8" cy="187.3" r="2.12"/><circle cx="294.7" cy="192.7" r="2.12"/><circle cx="296.6" cy="194.7" r="2.12"/><circle cx="298.5" cy="193.5" r="2.12"/><circle cx="300.4" cy="191.9" r="2.12"/><circle cx="302.3" cy="190.3" r="2.12"/><circle cx="304.2" cy="188.9" r="2.12"/><circle cx="306.1" cy="187.9" r="2.12"/><circle cx="308.1" cy="187.4" r="2.12"/><circle cx="310.0" cy="187.3" r="2.12"/><circle cx="311.9" cy="189.8" r="2.12"/><circle cx="313.8" cy="195.2" r="2.12"/><circle cx="315.7" cy="201.6" r="2.12"/><circle cx="317.6" cy="206.7" r="2.12"/><circle cx="319.5" cy="208.6" r="2.12"/><circle cx="321.4" cy="206.7" r="2.12"/><circle cx="323.3" cy="204.0" r="2.12"/><circle cx="325.2" cy="201.3" r="2.12"/><circle cx="327.1" cy="199.1" r="2.12"/><circle cx="329.1" cy="197.5" r="2.12"/><circle cx="331.0" cy="196.6" r="2.12"/><circle cx="332.9" cy="196.4" r="2.12"/><circle cx="334.8" cy="198.8" r="2.12"/><circle cx="336.7" cy="204.2" r="2.12"/><circle cx="338.6" cy="210.5" r="2.12"/><circle cx="340.5" cy="215.4" r="2.12"/><circle cx="342.4" cy="217.3" r="2.12"/><circle cx="344.3" cy="215.6" r="2.12"/><circle cx="346.3" cy="213.1" r="2.12"/><circle cx="348.2" cy="210.7" r="2.12"/><circle cx="350.1" cy="208.7" r="2.12"/><circle cx="352.0" cy="207.3" r="2.12"/><circle cx="353.9" cy="206.4" r="2.12"/><circle cx="355.8" cy="206.3" r="2.12"/><circle cx="357.7" cy="209.0" r="2.12"/><circle cx="359.6" cy="214.7" r="2.12"/><circle cx="361.5" cy="221.6" r="2.12"/><circle cx="363.4" cy="227.0" r="2.12"/><circle cx="365.4" cy="229.0" r="2.12"/><circle cx="367.3" cy="227.3" r="2.12"/><circle cx="369.2" cy="224.9" r="2.12"/><circle cx="371.1" cy="222.5" r="2.12"/><circle cx="373.0" cy="220.6" r="2.12"/><circle cx="374.9" cy="219.2" r="2.12"/><circle cx="376.8" cy="218.3" r="2.12"/><circle cx="378.7" cy="218.2" r="2.12"/><circle cx="380.6" cy="220.5" r="2.12"/><circle cx="382.5" cy="225.5" r="2.12"/><circle cx="384.4" cy="231.5" r="2.12"/><circle cx="386.4" cy="236.2" r="2.12"/><circle cx="388.3" cy="237.9" r="2.12"/><circle cx="390.2" cy="236.0" r="2.12"/><circle cx="392.1" cy="233.3" r="2.12"/><circle cx="394.0" cy="230.7" r="2.12"/><circle cx="395.9" cy="228.5" r="2.12"/><circle cx="397.8" cy="226.9" r="2.12"/><circle cx="399.7" cy="226.0" r="2.12"/><circle cx="401.6" cy="225.9" r="2.12"/><circle cx="403.6" cy="228.0" r="2.12"/><circle cx="405.5" cy="232.8" r="2.12"/><circle cx="407.4" cy="238.3" r="2.12"/><circle cx="409.3" cy="242.7" r="2.12"/><circle cx="411.2" cy="244.4" r="2.12"/><circle cx="413.1" cy="242.6" r="2.12"/><circle cx="415.0" cy="240.1" r="2.12"/><circle cx="416.9" cy="237.7" r="2.12"/><circle cx="418.8" cy="235.6" r="2.12"/><circle cx="420.7" cy="234.1" r="2.12"/><circle cx="422.7" cy="233.3" r="2.12"/><circle cx="424.6" cy="233.1" r="2.12"/><circle cx="426.5" cy="235.7" r="2.12"/><circle cx="428.4" cy="241.4" r="2.12"/><circle cx="430.3" cy="248.0" r="2.12"/><circle cx="432.2" cy="253.3" r="2.12"/><circle cx="434.1" cy="255.3" r="2.12"/><circle cx="436.0" cy="253.8" r="2.12"/><circle cx="437.9" cy="251.6" r="2.12"/><circle cx="439.8" cy="249.5" r="2.12"/><circle cx="441.7" cy="247.8" r="2.12"/><circle cx="443.7" cy="246.5" r="2.12"/><circle cx="445.6" cy="245.8" r="2.12"/><circle cx="447.5" cy="245.7" r="2.12"/><circle cx="449.4" cy="248.3" r="2.12"/><circle cx="451.3" cy="253.9" r="2.12"/><circle cx="453.2" cy="260.6" r="2.12"/><circle cx="455.1" cy="265.8" r="2.12"/><circle cx="457.0" cy="267.8" r="2.12"/><circle cx="458.9" cy="265.9" r="2.12"/><circle cx="460.9" cy="263.3" r="2.12"/><circle cx="462.8" cy="260.7" r="2.12"/><circle cx="464.7" cy="258.6" r="2.12"/><circle cx="466.6" cy="257.0" r="2.12"/><circle cx="468.5" cy="256.1" r="2.12"/><circle cx="470.4" cy="256.0" r="2.12"/><circle cx="472.3" cy="258.5" r="2.12"/><circle cx="474.2" cy="264.1" r="2.12"/><circle cx="476.1" cy="270.7" r="2.12"/><circle cx="478.0" cy="276.0" r="2.12"/><circle cx="480.0" cy="277.9" r="2.12"/><circle cx="481.9" cy="276.1" r="2.12"/><circle cx="483.8" cy="273.6" r="2.12"/><circle cx="485.7" cy="271.1" r="2.12"/><circle cx="487.6" cy="269.0" r="2.12"/><circle cx="489.5" cy="267.5" r="2.12"/><circle cx="491.4" cy="266.6" r="2.12"/><circle cx="493.3" cy="266.5" r="2.12"/><circle cx="495.2" cy="269.1" r="2.12"/><circle cx="497.1" cy="274.6" r="2.12"/><circle cx="499.0" cy="281.2" r="2.12"/><circle cx="501.0" cy="286.5" r="2.12"/><circle cx="502.9" cy="288.4" r="2.12"/><circle cx="504.8" cy="284.9" r="2.12"/><circle cx="506.7" cy="281.7" r="2.12"/><circle cx="508.6" cy="280.6" r="2.12"/></g>
<g fill="#e4e4e4" stroke="#1a1a1a" stroke-width="0.9"><path d="M66.3 24.7L69.7 32.1L62.9 32.1Z"/><path d="M89.4 37.6L92.8 45.0L86.0 45.0Z"/><path d="M112.2 47.5L115.6 54.9L108.8 54.9Z"/><path d="M134.8 61.4L138.2 68.8L131.4 68.8Z"/><path d="M158.0 81.1L161.4 88.5L154.6 88.5Z"/><path d="M180.7 105.6L184.1 113.0L177.3 113.0Z"/><path d="M203.5 122.0L206.9 129.4L200.1 129.4Z"/><path d="M226.5 133.5L229.9 140.9L223.1 140.9Z"/><path d="M249.5 146.7L252.9 154.1L246.1 154.1Z"/><path d="M272.2 157.1L275.6 164.5L268.8 164.5Z"/><path d="M295.3 190.0L298.7 197.4L291.9 197.4Z"/><path d="M318.5 193.6L321.9 201.0L315.1 201.0Z"/><path d="M341.0 210.4L344.4 217.8L337.6 217.8Z"/><path d="M364.5 217.2L367.9 224.6L361.1 224.6Z"/><path d="M387.0 232.4L390.4 239.8L383.6 239.8Z"/><path d="M410.1 222.7L413.5 230.1L406.7 230.1Z"/><path d="M433.2 235.6L436.6 243.0L429.8 243.0Z"/><path d="M456.0 238.8L459.4 246.2L452.6 246.2Z"/><path d="M478.8 242.2L482.2 249.6L475.4 249.6Z"/><path d="M501.4 263.1L504.8 270.5L498.0 270.5Z"/></g>
<polyline fill="none" stroke="#a8a8a8" stroke-width="0.8" stroke-linejoin="round" points="66.3,58.3 81.3,36.9 89.0,68.6 104.4,44.3 112.0,75.1 127.3,43.9 135.1,86.4 150.3,63.8 157.8,101.6 173.2,83.7 180.7,124.1 196.1,99.5 203.5,137.2 218.6,111.5 226.5,146.7 242.1,118.2 249.5,157.0 265.1,129.1 272.5,161.0 287.7,140.1 295.3,194.0 310.8,162.3 318.5,194.3 333.4,167.2 341.3,208.0 356.4,181.8 364.5,211.4 379.5,184.0 387.0,223.4 402.4,188.1 410.1,210.8 425.4,184.1 433.2,220.4 448.5,186.8 455.8,220.5 471.2,192.0 478.8,220.5 494.1,193.7 501.4,238.3 517.1,211.0 524.7,243.2"/>
<g stroke-width="0.95"><circle cx="66.3" cy="58.3" r="2.5" fill="#eeeeee" stroke="#111"/><circle cx="66.3" cy="58.3" r="0.7" fill="#bdbdbd"/><circle cx="81.3" cy="36.9" r="2.5" fill="#eeeeee" stroke="#111"/><circle cx="81.3" cy="36.9" r="0.7" fill="#bdbdbd"/><circle cx="89.0" cy="68.6" r="2.5" fill="#eeeeee" stroke="#111"/><circle cx="89.0" cy="68.6" r="0.7" fill="#bdbdbd"/><circle cx="104.4" cy="44.3" r="2.5" fill="#eeeeee" stroke="#111"/><circle cx="104.4" cy="44.3" r="0.7" fill="#bdbdbd"/><circle cx="112.0" cy="75.1" r="2.5" fill="#eeeeee" stroke="#111"/><circle cx="112.0" cy="75.1" r="0.7" fill="#bdbdbd"/><circle cx="127.3" cy="43.9" r="2.5" fill="#eeeeee" stroke="#111"/><circle cx="127.3" cy="43.9" r="0.7" fill="#bdbdbd"/><circle cx="135.1" cy="86.4" r="2.5" fill="#eeeeee" stroke="#111"/><circle cx="135.1" cy="86.4" r="0.7" fill="#bdbdbd"/><circle cx="150.3" cy="63.8" r="2.5" fill="#eeeeee" stroke="#111"/><circle cx="150.3" cy="63.8" r="0.7" fill="#bdbdbd"/><circle cx="157.8" cy="101.6" r="2.5" fill="#eeeeee" stroke="#111"/><circle cx="157.8" cy="101.6" r="0.7" fill="#bdbdbd"/><circle cx="173.2" cy="83.7" r="2.5" fill="#eeeeee" stroke="#111"/><circle cx="173.2" cy="83.7" r="0.7" fill="#bdbdbd"/><circle cx="180.7" cy="124.1" r="2.5" fill="#eeeeee" stroke="#111"/><circle cx="180.7" cy="124.1" r="0.7" fill="#bdbdbd"/><circle cx="196.1" cy="99.5" r="2.5" fill="#eeeeee" stroke="#111"/><circle cx="196.1" cy="99.5" r="0.7" fill="#bdbdbd"/><circle cx="203.5" cy="137.2" r="2.5" fill="#eeeeee" stroke="#111"/><circle cx="203.5" cy="137.2" r="0.7" fill="#bdbdbd"/><circle cx="218.6" cy="111.5" r="2.5" fill="#eeeeee" stroke="#111"/><circle cx="218.6" cy="111.5" r="0.7" fill="#bdbdbd"/><circle cx="226.5" cy="146.7" r="2.5" fill="#eeeeee" stroke="#111"/><circle cx="226.5" cy="146.7" r="0.7" fill="#bdbdbd"/><circle cx="242.1" cy="118.2" r="2.5" fill="#eeeeee" stroke="#111"/><circle cx="242.1" cy="118.2" r="0.7" fill="#bdbdbd"/><circle cx="249.5" cy="157.0" r="2.5" fill="#eeeeee" stroke="#111"/><circle cx="249.5" cy="157.0" r="0.7" fill="#bdbdbd"/><circle cx="265.1" cy="129.1" r="2.5" fill="#eeeeee" stroke="#111"/><circle cx="265.1" cy="129.1" r="0.7" fill="#bdbdbd"/><circle cx="272.5" cy="161.0" r="2.5" fill="#eeeeee" stroke="#111"/><circle cx="272.5" cy="161.0" r="0.7" fill="#bdbdbd"/><circle cx="287.7" cy="140.1" r="2.5" fill="#eeeeee" stroke="#111"/><circle cx="287.7" cy="140.1" r="0.7" fill="#bdbdbd"/><circle cx="295.3" cy="194.0" r="2.5" fill="#eeeeee" stroke="#111"/><circle cx="295.3" cy="194.0" r="0.7" fill="#bdbdbd"/><circle cx="310.8" cy="162.3" r="2.5" fill="#eeeeee" stroke="#111"/><circle cx="310.8" cy="162.3" r="0.7" fill="#bdbdbd"/><circle cx="318.5" cy="194.3" r="2.5" fill="#eeeeee" stroke="#111"/><circle cx="318.5" cy="194.3" r="0.7" fill="#bdbdbd"/><circle cx="333.4" cy="167.2" r="2.5" fill="#eeeeee" stroke="#111"/><circle cx="333.4" cy="167.2" r="0.7" fill="#bdbdbd"/><circle cx="341.3" cy="208.0" r="2.5" fill="#eeeeee" stroke="#111"/><circle cx="341.3" cy="208.0" r="0.7" fill="#bdbdbd"/><circle cx="356.4" cy="181.8" r="2.5" fill="#eeeeee" stroke="#111"/><circle cx="356.4" cy="181.8" r="0.7" fill="#bdbdbd"/><circle cx="364.5" cy="211.4" r="2.5" fill="#eeeeee" stroke="#111"/><circle cx="364.5" cy="211.4" r="0.7" fill="#bdbdbd"/><circle cx="379.5" cy="184.0" r="2.5" fill="#eeeeee" stroke="#111"/><circle cx="379.5" cy="184.0" r="0.7" fill="#bdbdbd"/><circle cx="387.0" cy="223.4" r="2.5" fill="#eeeeee" stroke="#111"/><circle cx="387.0" cy="223.4" r="0.7" fill="#bdbdbd"/><circle cx="402.4" cy="188.1" r="2.5" fill="#eeeeee" stroke="#111"/><circle cx="402.4" cy="188.1" r="0.7" fill="#bdbdbd"/><circle cx="410.1" cy="210.8" r="2.5" fill="#eeeeee" stroke="#111"/><circle cx="410.1" cy="210.8" r="0.7" fill="#bdbdbd"/><circle cx="425.4" cy="184.1" r="2.5" fill="#eeeeee" stroke="#111"/><circle cx="425.4" cy="184.1" r="0.7" fill="#bdbdbd"/><circle cx="433.2" cy="220.4" r="2.5" fill="#eeeeee" stroke="#111"/><circle cx="433.2" cy="220.4" r="0.7" fill="#bdbdbd"/><circle cx="448.5" cy="186.8" r="2.5" fill="#eeeeee" stroke="#111"/><circle cx="448.5" cy="186.8" r="0.7" fill="#bdbdbd"/><circle cx="455.8" cy="220.5" r="2.5" fill="#eeeeee" stroke="#111"/><circle cx="455.8" cy="220.5" r="0.7" fill="#bdbdbd"/><circle cx="471.2" cy="192.0" r="2.5" fill="#eeeeee" stroke="#111"/><circle cx="471.2" cy="192.0" r="0.7" fill="#bdbdbd"/><circle cx="478.8" cy="220.5" r="2.5" fill="#eeeeee" stroke="#111"/><circle cx="478.8" cy="220.5" r="0.7" fill="#bdbdbd"/><circle cx="494.1" cy="193.7" r="2.5" fill="#eeeeee" stroke="#111"/><circle cx="494.1" cy="193.7" r="0.7" fill="#bdbdbd"/><circle cx="501.4" cy="238.3" r="2.5" fill="#eeeeee" stroke="#111"/><circle cx="501.4" cy="238.3" r="0.7" fill="#bdbdbd"/><circle cx="517.1" cy="211.0" r="2.5" fill="#eeeeee" stroke="#111"/><circle cx="517.1" cy="211.0" r="0.7" fill="#bdbdbd"/><circle cx="524.7" cy="243.2" r="2.5" fill="#eeeeee" stroke="#111"/><circle cx="524.7" cy="243.2" r="0.7" fill="#bdbdbd"/></g>
<rect x="292.4" y="16.9" width="222.3" height="77.5" fill="#fff" stroke="#1a1a1a" stroke-width="1.1"/>
<path d="M299.8 25.2H319.0" stroke="#6193f5" stroke-width="1.5"/>
<g fill="#3d7ef6" stroke="#0a0a20" stroke-width="0.8"><path d="M309.4 22.7L311.9 25.2L309.4 27.7L306.9 25.2Z"/></g>
<text x="321.4" y="28.9" font-family="Liberation Sans, sans-serif" stroke="#000" stroke-width="0.22" font-size="10.4" textLength="179.2" lengthAdjust="spacingAndGlyphs">GRACE (Wouters et al. 2019, updated)</text>
<path d="M299.8 40.6H319.0" stroke="#ff3838" stroke-width="1.5"/>
<g fill="#f20000" stroke="#000" stroke-width="0.7"><path d="M309.4 38.0L311.6 42.4L307.2 42.4Z"/></g>
<text x="321.4" y="44.3" font-family="Liberation Sans, sans-serif" stroke="#000" stroke-width="0.22" font-size="10.4" textLength="190.6" lengthAdjust="spacingAndGlyphs">CryoSat-2 (Foresta et al., 2016, updated)</text>
<path d="M299.8 55.9H319.0" stroke="#000" stroke-width="1.5"/>
<g fill="#ffff00" stroke="#000" stroke-width="0.9"><circle cx="309.4" cy="55.9" r="2.1"/></g>
<text x="321.4" y="59.6" font-family="Liberation Sans, sans-serif" stroke="#000" stroke-width="0.22" font-size="10.4" textLength="140.6" lengthAdjust="spacingAndGlyphs">ASTER (Hugonnet et al., 2021)</text>
<g fill="#e4e4e4" stroke="#1a1a1a" stroke-width="1.1"><path d="M309.4 68.4L312.7 75.0L306.1 75.0Z"/></g>
<text x="321.4" y="76.1" font-family="Liberation Sans, sans-serif" stroke="#000" stroke-width="0.22" font-size="10.4" textLength="162.4" lengthAdjust="spacingAndGlyphs">In situ (Aðalgeirsdóttir et al., 2020)</text>
<path d="M299.8 87.0H319.0" stroke="#a8a8a8" stroke-width="1.5"/>
<g stroke-width="1.2"><circle cx="309.4" cy="87.0" r="2.7" fill="#eeeeee" stroke="#111"/><circle cx="309.4" cy="87.0" r="0.7" fill="#bdbdbd"/></g>
<text x="321.4" y="90.7" font-family="Liberation Sans, sans-serif" stroke="#000" stroke-width="0.22" font-size="10.4" textLength="156.9" lengthAdjust="spacingAndGlyphs">In situ, surface mass balance only</text>
<path d="M46.2 446.7H539.2" stroke="#000" stroke-width="1.9"/>
<path d="M46.2 334.2V630.5H539.2V334.2Z" fill="none" stroke="#000" stroke-width="1.8"/>
<path d="M41.7 630.5H51.2M534.2 630.5H543.7M42.2 612.1H46.2M539.2 612.1H543.2M41.7 593.7H51.2M534.2 593.7H543.7M42.2 575.3H46.2M539.2 575.3H543.2M41.7 557.0H51.2M534.2 557.0H543.7M42.2 538.6H46.2M539.2 538.6H543.2M41.7 520.2H51.2M534.2 520.2H543.7M42.2 501.8H46.2M539.2 501.8H543.2M41.7 483.4H51.2M534.2 483.4H543.7M42.2 465.1H46.2M539.2 465.1H543.2M41.7 446.7H51.2M534.2 446.7H543.7M42.2 428.3H46.2M539.2 428.3H543.2M41.7 409.9H51.2M534.2 409.9H543.7M42.2 391.6H46.2M539.2 391.6H543.2M41.7 373.2H51.2M534.2 373.2H543.7M42.2 354.8H46.2M539.2 354.8H543.2M41.7 334.2H51.2M534.2 334.2H543.7M46.2 626.5V635.5M68.6 630.5V634.5M91.0 630.5V634.5M113.4 630.5V634.5M135.8 626.5V635.5M158.2 630.5V634.5M180.6 630.5V634.5M203.0 630.5V634.5M225.4 626.5V635.5M247.8 630.5V634.5M270.2 630.5V634.5M292.6 630.5V634.5M315.0 626.5V635.5M337.4 630.5V634.5M359.8 630.5V634.5M382.2 630.5V634.5M404.6 626.5V635.5M427.0 630.5V634.5M449.4 630.5V634.5M471.8 630.5V634.5M494.2 626.5V635.5M516.6 630.5V634.5M539.0 630.5V634.5" stroke="#000" stroke-width="1.6"/>
<text x="36.5" y="634.7" font-family="Liberation Sans, sans-serif" stroke="#000" stroke-width="0.22" font-size="11.8" text-anchor="end">-50</text>
<text x="549.8" y="634.7" font-family="Liberation Sans, sans-serif" stroke="#000" stroke-width="0.22" font-size="11.8">-50</text>
<text x="36.5" y="597.9" font-family="Liberation Sans, sans-serif" stroke="#000" stroke-width="0.22" font-size="11.8" text-anchor="end">-40</text>
<text x="549.8" y="597.9" font-family="Liberation Sans, sans-serif" stroke="#000" stroke-width="0.22" font-size="11.8">-40</text>
<text x="36.5" y="561.2" font-family="Liberation Sans, sans-serif" stroke="#000" stroke-width="0.22" font-size="11.8" text-anchor="end">-30</text>
<text x="549.8" y="561.2" font-family="Liberation Sans, sans-serif" stroke="#000" stroke-width="0.22" font-size="11.8">-30</text>
<text x="36.5" y="524.4" font-family="Liberation Sans, sans-serif" stroke="#000" stroke-width="0.22" font-size="11.8" text-anchor="end">-20</text>
<text x="549.8" y="524.4" font-family="Liberation Sans, sans-serif" stroke="#000" stroke-width="0.22" font-size="11.8">-20</text>
<text x="36.5" y="487.6" font-family="Liberation Sans, sans-serif" stroke="#000" stroke-width="0.22" font-size="11.8" text-anchor="end">-10</text>
<text x="549.8" y="487.6" font-family="Liberation Sans, sans-serif" stroke="#000" stroke-width="0.22" font-size="11.8">-10</text>
<text x="36.5" y="450.9" font-family="Liberation Sans, sans-serif" stroke="#000" stroke-width="0.22" font-size="11.8" text-anchor="end">0</text>
<text x="549.8" y="450.9" font-family="Liberation Sans, sans-serif" stroke="#000" stroke-width="0.22" font-size="11.8">0</text>
<text x="36.5" y="414.1" font-family="Liberation Sans, sans-serif" stroke="#000" stroke-width="0.22" font-size="11.8" text-anchor="end">10</text>
<text x="549.8" y="414.1" font-family="Liberation Sans, sans-serif" stroke="#000" stroke-width="0.22" font-size="11.8">10</text>
<text x="36.5" y="377.4" font-family="Liberation Sans, sans-serif" stroke="#000" stroke-width="0.22" font-size="11.8" text-anchor="end">20</text>
<text x="549.8" y="377.4" font-family="Liberation Sans, sans-serif" stroke="#000" stroke-width="0.22" font-size="11.8">20</text>
<text x="36.5" y="340.6" font-family="Liberation Sans, sans-serif" stroke="#000" stroke-width="0.22" font-size="11.8" text-anchor="end">30</text>
<text x="549.8" y="340.6" font-family="Liberation Sans, sans-serif" stroke="#000" stroke-width="0.22" font-size="11.8">30</text>
<text x="46.2" y="648" font-family="Liberation Sans, sans-serif" stroke="#000" stroke-width="0.22" font-size="11.8" text-anchor="middle">2010</text>
<text x="135.8" y="648" font-family="Liberation Sans, sans-serif" stroke="#000" stroke-width="0.22" font-size="11.8" text-anchor="middle">2012</text>
<text x="225.4" y="648" font-family="Liberation Sans, sans-serif" stroke="#000" stroke-width="0.22" font-size="11.8" text-anchor="middle">2014</text>
<text x="315.0" y="648" font-family="Liberation Sans, sans-serif" stroke="#000" stroke-width="0.22" font-size="11.8" text-anchor="middle">2016</text>
<text x="404.6" y="648" font-family="Liberation Sans, sans-serif" stroke="#000" stroke-width="0.22" font-size="11.8" text-anchor="middle">2018</text>
<text x="494.2" y="648" font-family="Liberation Sans, sans-serif" stroke="#000" stroke-width="0.22" font-size="11.8" text-anchor="middle">2020</text>
<text x="292.3" y="665" font-family="Liberation Sans, sans-serif" stroke="#000" stroke-width="0.22" font-size="12" text-anchor="middle">Date (years)</text>
<text transform="translate(7.4,360.7) scale(0.75,1)" font-family="Liberation Sans, sans-serif" font-size="28.9" stroke="#000" stroke-width="0.5" text-anchor="middle">B</text>
<text transform="translate(10.9,483.9) rotate(-90)" font-family="Liberation Sans, sans-serif" stroke="#000" stroke-width="0.22" font-size="11.9" text-anchor="middle">Cumulative mass change (Gt)</text>
<polyline fill="none" stroke="#6193f5" stroke-width="1.25" stroke-linejoin="round" points="47.9,345.1 51.7,378.2 55.3,365.2 59.1,369.7 62.9,366.5 66.2,385.9 70.2,412.7 74.2,421.5 78.2,432.1 82.2,442.3 85.5,458.0 99.7,429.4 103.6,382.1 107.5,395.9 115.0,418.0 118.7,435.4 122.6,465.8 126.6,467.0 133.4,440.8 137.6,427.2 140.8,389.7 144.6,380.7 149.1,377.3 155.8,433.5 160.3,435.3 167.1,465.7 174.9,430.3 178.3,442.0 182.1,437.5 185.7,413.8 196.7,418.3 205.3,468.4 218.8,472.4 223.4,461.3 227.3,430.6 234.2,428.9 238.4,397.4 242.5,398.5 246.3,448.1 253.3,471.1 261.1,499.3 264.9,483.5 272.1,418.1 275.7,440.7 279.6,426.4 283.4,407.5 284.7,423.7 294.8,448.5 297.5,479.4 312.5,461.2 317.1,474.5 320.7,461.2 324.0,447.2 331.6,438.3 334.9,470.9 339.3,509.7 342.6,532.2 353.8,472.7 357.8,562.0 361.7,469.4 369.0,486.7 373.1,493.8 376.7,470.9 380.0,495.6"/>
<polyline fill="none" stroke="#6193f5" stroke-width="1.25" stroke-linejoin="round" points="424.9,519.1 428.4,540.2 440.5,577.5 443.7,588.1 447.2,536.7 450.9,550.1 454.7,555.5 458.4,550.6 462.4,530.7 466.2,538.2 469.9,575.1 474.1,596.0 477.7,602.7 480.8,593.6 484.6,602.7 488.3,598.2 491.6,606.1"/>
<g fill="#3d7ef6" stroke="#0a0a20" stroke-width="1.0"><path d="M47.9 342.2L50.8 345.1L47.9 348.0L45.0 345.1Z"/><path d="M51.7 375.3L54.6 378.2L51.7 381.1L48.8 378.2Z"/><path d="M55.3 362.3L58.2 365.2L55.3 368.1L52.4 365.2Z"/><path d="M59.1 366.8L62.0 369.7L59.1 372.6L56.2 369.7Z"/><path d="M62.9 363.6L65.8 366.5L62.9 369.4L60.0 366.5Z"/><path d="M66.2 383.0L69.1 385.9L66.2 388.8L63.3 385.9Z"/><path d="M70.2 409.8L73.1 412.7L70.2 415.6L67.3 412.7Z"/><path d="M74.2 418.6L77.1 421.5L74.2 424.4L71.3 421.5Z"/><path d="M78.2 429.2L81.1 432.1L78.2 435.0L75.3 432.1Z"/><path d="M82.2 439.4L85.1 442.3L82.2 445.2L79.3 442.3Z"/><path d="M85.5 455.1L88.4 458.0L85.5 460.9L82.6 458.0Z"/><path d="M99.7 426.5L102.6 429.4L99.7 432.3L96.8 429.4Z"/><path d="M103.6 379.2L106.5 382.1L103.6 385.0L100.7 382.1Z"/><path d="M107.5 393.0L110.4 395.9L107.5 398.8L104.6 395.9Z"/><path d="M115.0 415.1L117.9 418.0L115.0 420.9L112.1 418.0Z"/><path d="M118.7 432.5L121.6 435.4L118.7 438.3L115.8 435.4Z"/><path d="M122.6 462.9L125.5 465.8L122.6 468.7L119.7 465.8Z"/><path d="M126.6 464.1L129.5 467.0L126.6 469.9L123.7 467.0Z"/><path d="M133.4 437.9L136.3 440.8L133.4 443.7L130.5 440.8Z"/><path d="M137.6 424.3L140.5 427.2L137.6 430.1L134.7 427.2Z"/><path d="M140.8 386.8L143.7 389.7L140.8 392.6L137.9 389.7Z"/><path d="M144.6 377.8L147.5 380.7L144.6 383.6L141.7 380.7Z"/><path d="M149.1 374.4L152.0 377.3L149.1 380.2L146.2 377.3Z"/><path d="M155.8 430.6L158.7 433.5L155.8 436.4L152.9 433.5Z"/><path d="M160.3 432.4L163.2 435.3L160.3 438.2L157.4 435.3Z"/><path d="M167.1 462.8L170.0 465.7L167.1 468.6L164.2 465.7Z"/><path d="M174.9 427.4L177.8 430.3L174.9 433.2L172.0 430.3Z"/><path d="M178.3 439.1L181.2 442.0L178.3 444.9L175.4 442.0Z"/><path d="M182.1 434.6L185.0 437.5L182.1 440.4L179.2 437.5Z"/><path d="M185.7 410.9L188.6 413.8L185.7 416.7L182.8 413.8Z"/><path d="M196.7 415.4L199.6 418.3L196.7 421.2L193.8 418.3Z"/><path d="M205.3 465.5L208.2 468.4L205.3 471.3L202.4 468.4Z"/><path d="M218.8 469.5L221.7 472.4L218.8 475.3L215.9 472.4Z"/><path d="M223.4 458.4L226.3 461.3L223.4 464.2L220.5 461.3Z"/><path d="M227.3 427.7L230.2 430.6L227.3 433.5L224.4 430.6Z"/><path d="M234.2 426.0L237.1 428.9L234.2 431.8L231.3 428.9Z"/><path d="M238.4 394.5L241.3 397.4L238.4 400.3L235.5 397.4Z"/><path d="M242.5 395.6L245.4 398.5L242.5 401.4L239.6 398.5Z"/><path d="M246.3 445.2L249.2 448.1L246.3 451.0L243.4 448.1Z"/><path d="M253.3 468.2L256.2 471.1L253.3 474.0L250.4 471.1Z"/><path d="M261.1 496.4L264.0 499.3L261.1 502.2L258.2 499.3Z"/><path d="M264.9 480.6L267.8 483.5L264.9 486.4L262.0 483.5Z"/><path d="M272.1 415.2L275.0 418.1L272.1 421.0L269.2 418.1Z"/><path d="M275.7 437.8L278.6 440.7L275.7 443.6L272.8 440.7Z"/><path d="M279.6 423.5L282.5 426.4L279.6 429.3L276.7 426.4Z"/><path d="M283.4 404.6L286.3 407.5L283.4 410.4L280.5 407.5Z"/><path d="M284.7 420.8L287.6 423.7L284.7 426.6L281.8 423.7Z"/><path d="M294.8 445.6L297.7 448.5L294.8 451.4L291.9 448.5Z"/><path d="M297.5 476.5L300.4 479.4L297.5 482.3L294.6 479.4Z"/><path d="M312.5 458.3L315.4 461.2L312.5 464.1L309.6 461.2Z"/><path d="M317.1 471.6L320.0 474.5L317.1 477.4L314.2 474.5Z"/><path d="M320.7 458.3L323.6 461.2L320.7 464.1L317.8 461.2Z"/><path d="M324.0 444.3L326.9 447.2L324.0 450.1L321.1 447.2Z"/><path d="M331.6 435.4L334.5 438.3L331.6 441.2L328.7 438.3Z"/><path d="M334.9 468.0L337.8 470.9L334.9 473.8L332.0 470.9Z"/><path d="M339.3 506.8L342.2 509.7L339.3 512.6L336.4 509.7Z"/><path d="M342.6 529.3L345.5 532.2L342.6 535.1L339.7 532.2Z"/><path d="M353.8 469.8L356.7 472.7L353.8 475.6L350.9 472.7Z"/><path d="M357.8 559.1L360.7 562.0L357.8 564.9L354.9 562.0Z"/><path d="M361.7 466.5L364.6 469.4L361.7 472.3L358.8 469.4Z"/><path d="M369.0 483.8L371.9 486.7L369.0 489.6L366.1 486.7Z"/><path d="M373.1 490.9L376.0 493.8L373.1 496.7L370.2 493.8Z"/><path d="M376.7 468.0L379.6 470.9L376.7 473.8L373.8 470.9Z"/><path d="M380.0 492.7L382.9 495.6L380.0 498.5L377.1 495.6Z"/><path d="M424.9 516.2L427.8 519.1L424.9 522.0L422.0 519.1Z"/><path d="M428.4 537.3L431.3 540.2L428.4 543.1L425.5 540.2Z"/><path d="M440.5 574.6L443.4 577.5L440.5 580.4L437.6 577.5Z"/><path d="M443.7 585.2L446.6 588.1L443.7 591.0L440.8 588.1Z"/><path d="M447.2 533.8L450.1 536.7L447.2 539.6L444.3 536.7Z"/><path d="M450.9 547.2L453.8 550.1L450.9 553.0L448.0 550.1Z"/><path d="M454.7 552.6L457.6 555.5L454.7 558.4L451.8 555.5Z"/><path d="M458.4 547.7L461.3 550.6L458.4 553.5L455.5 550.6Z"/><path d="M462.4 527.8L465.3 530.7L462.4 533.6L459.5 530.7Z"/><path d="M466.2 535.3L469.1 538.2L466.2 541.1L463.3 538.2Z"/><path d="M469.9 572.2L472.8 575.1L469.9 578.0L467.0 575.1Z"/><path d="M474.1 593.1L477.0 596.0L474.1 598.9L471.2 596.0Z"/><path d="M477.7 599.8L480.6 602.7L477.7 605.6L474.8 602.7Z"/><path d="M480.8 590.7L483.7 593.6L480.8 596.5L477.9 593.6Z"/><path d="M484.6 599.8L487.5 602.7L484.6 605.6L481.7 602.7Z"/><path d="M488.3 595.3L491.2 598.2L488.3 601.1L485.4 598.2Z"/><path d="M491.6 603.2L494.5 606.1L491.6 609.0L488.7 606.1Z"/></g>
<polyline fill="none" stroke="#ff3838" stroke-width="1.25" stroke-linejoin="round" points="74.5,436.1 81.5,464.7 86.2,449.8 88.5,423.4 93.0,419.7 96.3,415.2 100.1,414.8 103.4,399.5 107.6,382.6 111.5,376.4 115.3,390.6 119.2,425.7 122.6,437.8 125.9,429.4 129.7,430.3 133.5,431.6 137.7,431.6 141.2,422.8 144.6,400.3 148.7,390.1 152.5,385.2 156.3,403.3 159.9,428.9 163.7,456.2 170.4,470.2 174.9,470.2 179.0,460.7 182.8,449.9 186.2,437.5 189.6,433.0 193.4,428.9 197.4,428.0 201.5,429.6 204.8,433.7 208.7,471.3 212.5,486.4 216.1,488.2 219.9,475.8 223.4,472.2 227.4,463.9 231.2,455.9 234.6,442.9 238.4,432.8 242.0,426.0 245.8,430.5 249.2,445.2 253.3,476.7 257.1,493.6 261.1,492.4 264.9,484.6 268.3,485.7 272.1,484.1 275.7,465.5 279.6,453.7 283.4,444.7 287.0,431.7 290.8,441.1 294.2,431.7 298.2,449.7 301.6,462.5 305.4,470.4 309.4,468.9 313.2,459.6 316.6,462.4 320.2,451.8 324.0,434.5 327.8,424.2 331.6,435.7 335.4,448.4 339.3,467.6 342.6,485.4 346.9,494.3 350.7,494.3 354.0,490.5 357.8,494.9 361.7,478.6 365.5,466.9 369.0,446.7 372.3,438.3 376.2,435.7 380.0,440.8 383.8,461.9 387.6,484.2 391.4,495.6 394.7,499.5 398.5,495.1 402.6,489.5 406.4,489.5 410.5,474.1 413.5,473.5 417.4,462.0 421.0,462.0 424.6,462.0 428.4,487.6 432.3,519.1 435.9,514.6 439.8,519.1 444.3,502.6 447.9,500.5 451.5,489.1 455.4,475.6 459.3,473.5 462.9,473.5 466.5,477.1 470.2,495.0 473.3,524.3 476.8,543.4 480.8,542.9 484.7,543.1 488.4,543.9 492.4,536.9 496.0,523.7 499.6,513.0 503.2,501.7 507.1,493.5 510.9,497.4 514.9,504.9 518.4,518.4 522.0,553.1"/>
<g fill="#f20000" stroke="#000" stroke-width="1.0"><path d="M74.5 432.9L77.2 438.1L71.8 438.1Z"/><path d="M81.5 461.5L84.2 466.7L78.8 466.7Z"/><path d="M86.2 446.7L88.9 451.9L83.5 451.9Z"/><path d="M88.5 420.3L91.2 425.5L85.8 425.5Z"/><path d="M93.0 416.6L95.7 421.8L90.3 421.8Z"/><path d="M96.3 412.1L99.0 417.3L93.6 417.3Z"/><path d="M100.1 411.7L102.8 416.9L97.4 416.9Z"/><path d="M103.4 396.3L106.1 401.5L100.7 401.5Z"/><path d="M107.6 379.5L110.3 384.7L104.9 384.7Z"/><path d="M111.5 373.3L114.2 378.5L108.8 378.5Z"/><path d="M115.3 387.5L118.0 392.7L112.6 392.7Z"/><path d="M119.2 422.6L121.9 427.8L116.5 427.8Z"/><path d="M122.6 434.7L125.3 439.9L119.9 439.9Z"/><path d="M125.9 426.3L128.6 431.5L123.2 431.5Z"/><path d="M129.7 427.1L132.4 432.3L127.0 432.3Z"/><path d="M133.5 428.4L136.2 433.6L130.8 433.6Z"/><path d="M137.7 428.4L140.4 433.6L135.0 433.6Z"/><path d="M141.2 419.7L143.9 424.9L138.5 424.9Z"/><path d="M144.6 397.1L147.3 402.3L141.9 402.3Z"/><path d="M148.7 387.0L151.4 392.2L146.0 392.2Z"/><path d="M152.5 382.1L155.2 387.3L149.8 387.3Z"/><path d="M156.3 400.2L159.0 405.4L153.6 405.4Z"/><path d="M159.9 425.8L162.6 431.0L157.2 431.0Z"/><path d="M163.7 453.1L166.4 458.3L161.0 458.3Z"/><path d="M170.4 467.1L173.1 472.3L167.7 472.3Z"/><path d="M174.9 467.1L177.6 472.3L172.2 472.3Z"/><path d="M179.0 457.6L181.7 462.8L176.3 462.8Z"/><path d="M182.8 446.8L185.5 452.0L180.1 452.0Z"/><path d="M186.2 434.4L188.9 439.6L183.5 439.6Z"/><path d="M189.6 429.8L192.3 435.0L186.9 435.0Z"/><path d="M193.4 425.8L196.1 431.0L190.7 431.0Z"/><path d="M197.4 424.9L200.1 430.1L194.7 430.1Z"/><path d="M201.5 426.5L204.2 431.7L198.8 431.7Z"/><path d="M204.8 430.5L207.5 435.7L202.1 435.7Z"/><path d="M208.7 468.2L211.4 473.4L206.0 473.4Z"/><path d="M212.5 483.3L215.2 488.5L209.8 488.5Z"/><path d="M216.1 485.1L218.8 490.3L213.4 490.3Z"/><path d="M219.9 472.7L222.6 477.9L217.2 477.9Z"/><path d="M223.4 469.1L226.1 474.3L220.7 474.3Z"/><path d="M227.4 460.7L230.1 465.9L224.7 465.9Z"/><path d="M231.2 452.8L233.9 458.0L228.5 458.0Z"/><path d="M234.6 439.8L237.3 445.0L231.9 445.0Z"/><path d="M238.4 429.6L241.1 434.8L235.7 434.8Z"/><path d="M242.0 422.9L244.7 428.1L239.3 428.1Z"/><path d="M245.8 427.3L248.5 432.5L243.1 432.5Z"/><path d="M249.2 442.1L251.9 447.3L246.5 447.3Z"/><path d="M253.3 473.6L256.0 478.8L250.6 478.8Z"/><path d="M257.1 490.5L259.8 495.7L254.4 495.7Z"/><path d="M261.1 489.3L263.8 494.5L258.4 494.5Z"/><path d="M264.9 481.5L267.6 486.7L262.2 486.7Z"/><path d="M268.3 482.6L271.0 487.8L265.6 487.8Z"/><path d="M272.1 481.0L274.8 486.2L269.4 486.2Z"/><path d="M275.7 462.3L278.4 467.5L273.0 467.5Z"/><path d="M279.6 450.6L282.3 455.8L276.9 455.8Z"/><path d="M283.4 441.6L286.1 446.8L280.7 446.8Z"/><path d="M287.0 428.5L289.7 433.7L284.3 433.7Z"/><path d="M290.8 438.0L293.5 443.2L288.1 443.2Z"/><path d="M294.2 428.5L296.9 433.7L291.5 433.7Z"/><path d="M298.2 446.6L300.9 451.8L295.5 451.8Z"/><path d="M301.6 459.4L304.3 464.6L298.9 464.6Z"/><path d="M305.4 467.3L308.1 472.5L302.7 472.5Z"/><path d="M309.4 465.7L312.1 470.9L306.7 470.9Z"/><path d="M313.2 456.5L315.9 461.7L310.5 461.7Z"/><path d="M316.6 459.3L319.3 464.5L313.9 464.5Z"/><path d="M320.2 448.7L322.9 453.9L317.5 453.9Z"/><path d="M324.0 431.3L326.7 436.5L321.3 436.5Z"/><path d="M327.8 421.1L330.5 426.3L325.1 426.3Z"/><path d="M331.6 432.5L334.3 437.7L328.9 437.7Z"/><path d="M335.4 445.3L338.1 450.5L332.7 450.5Z"/><path d="M339.3 464.4L342.0 469.6L336.6 469.6Z"/><path d="M342.6 482.3L345.3 487.5L339.9 487.5Z"/><path d="M346.9 491.2L349.6 496.4L344.2 496.4Z"/><path d="M350.7 491.2L353.4 496.4L348.0 496.4Z"/><path d="M354.0 487.4L356.7 492.6L351.3 492.6Z"/><path d="M357.8 491.8L360.5 497.0L355.1 497.0Z"/><path d="M361.7 475.5L364.4 480.7L359.0 480.7Z"/><path d="M365.5 463.7L368.2 468.9L362.8 468.9Z"/><path d="M369.0 443.6L371.7 448.8L366.3 448.8Z"/><path d="M372.3 435.2L375.0 440.4L369.6 440.4Z"/><path d="M376.2 432.5L378.9 437.7L373.5 437.7Z"/><path d="M380.0 437.7L382.7 442.9L377.3 442.9Z"/><path d="M383.8 458.8L386.5 464.0L381.1 464.0Z"/><path d="M387.6 481.1L390.3 486.3L384.9 486.3Z"/><path d="M391.4 492.5L394.1 497.7L388.7 497.7Z"/><path d="M394.7 496.3L397.4 501.5L392.0 501.5Z"/><path d="M398.5 492.0L401.2 497.2L395.8 497.2Z"/><path d="M402.6 486.4L405.3 491.6L399.9 491.6Z"/><path d="M406.4 486.4L409.1 491.6L403.7 491.6Z"/><path d="M410.5 471.0L413.2 476.2L407.8 476.2Z"/><path d="M413.5 470.4L416.2 475.6L410.8 475.6Z"/><path d="M417.4 458.9L420.1 464.1L414.7 464.1Z"/><path d="M421.0 458.9L423.7 464.1L418.3 464.1Z"/><path d="M424.6 458.9L427.3 464.1L421.9 464.1Z"/><path d="M428.4 484.5L431.1 489.7L425.7 489.7Z"/><path d="M432.3 516.0L435.0 521.2L429.6 521.2Z"/><path d="M435.9 511.5L438.6 516.7L433.2 516.7Z"/><path d="M439.8 516.0L442.5 521.2L437.1 521.2Z"/><path d="M444.3 499.4L447.0 504.6L441.6 504.6Z"/><path d="M447.9 497.3L450.6 502.5L445.2 502.5Z"/><path d="M451.5 486.0L454.2 491.2L448.8 491.2Z"/><path d="M455.4 472.5L458.1 477.7L452.7 477.7Z"/><path d="M459.3 470.4L462.0 475.6L456.6 475.6Z"/><path d="M462.9 470.4L465.6 475.6L460.2 475.6Z"/><path d="M466.5 474.0L469.2 479.2L463.8 479.2Z"/><path d="M470.2 491.9L472.9 497.1L467.5 497.1Z"/><path d="M473.3 521.2L476.0 526.4L470.6 526.4Z"/><path d="M476.8 540.3L479.5 545.5L474.1 545.5Z"/><path d="M480.8 539.8L483.5 545.0L478.1 545.0Z"/><path d="M484.7 540.0L487.4 545.2L482.0 545.2Z"/><path d="M488.4 540.8L491.1 546.0L485.7 546.0Z"/><path d="M492.4 533.7L495.1 538.9L489.7 538.9Z"/><path d="M496.0 520.6L498.7 525.8L493.3 525.8Z"/><path d="M499.6 509.9L502.3 515.1L496.9 515.1Z"/><path d="M503.2 498.5L505.9 503.7L500.5 503.7Z"/><path d="M507.1 490.4L509.8 495.6L504.4 495.6Z"/><path d="M510.9 494.2L513.6 499.4L508.2 499.4Z"/><path d="M514.9 501.8L517.6 507.0L512.2 507.0Z"/><path d="M518.4 515.3L521.1 520.5L515.7 520.5Z"/><path d="M522.0 550.0L524.7 555.2L519.3 555.2Z"/></g>
<polyline fill="none" stroke="#000" stroke-width="0.8" stroke-linejoin="round" points="46.2,400.8 49.9,400.3 53.7,399.9 57.4,399.7 61.1,401.2 64.9,409.1 68.6,421.5 72.3,434.6 76.1,444.5 79.8,448.2 83.5,446.0 87.3,443.0 91.0,440.1 94.7,437.6 98.5,435.8 102.2,434.8 105.9,434.7 109.7,439.2 113.4,449.1 117.1,460.8 120.9,470.0 124.6,473.5 128.3,470.0 132.1,465.0 135.8,460.2 139.5,456.1 143.3,453.2 147.0,451.5 150.7,451.2 154.5,455.7 158.2,465.4 161.9,476.8 165.7,485.9 169.4,489.3 173.1,486.1 176.9,481.6 180.6,477.3 184.3,473.6 188.1,471.0 191.8,469.5 195.5,469.2 199.3,474.1 203.0,484.6 206.7,497.1 210.5,506.9 214.2,510.6 217.9,507.5 221.7,503.1 225.4,498.8 229.1,495.2 232.9,492.6 236.6,491.2 240.3,490.9 244.1,495.1 247.8,504.3 251.5,515.0 255.3,523.6 259.0,526.8 262.7,523.3 266.5,518.4 270.2,513.7 273.9,509.7 277.7,506.8 281.4,505.2 285.1,504.8 288.9,508.8 292.6,517.4 296.3,527.5 300.1,535.5 303.8,538.6 307.5,535.3 311.3,530.8 315.0,526.3 318.7,522.6 322.5,519.9 326.2,518.4 329.9,518.1 333.7,522.8 337.4,533.1 341.1,545.2 344.9,554.8 348.6,558.4 352.3,555.6 356.1,551.7 359.8,547.9 363.5,544.7 367.3,542.4 371.0,541.1 374.7,540.9 378.5,545.6 382.2,555.9 385.9,568.0 389.7,577.6 393.4,581.2 397.1,577.8 400.9,573.0 404.6,568.3 408.3,564.4 412.1,561.5 415.8,559.9 419.5,559.6 423.3,564.3 427.0,574.5 430.7,586.5 434.5,596.0 438.2,599.6 441.9,596.3 445.7,591.6 449.4,587.1 453.1,583.3 456.9,580.6 460.6,579.0 464.3,578.7 468.1,583.4 471.8,593.6 475.5,605.6 479.3,615.1 483.0,618.7 486.7,612.3 490.5,606.4 494.2,604.4"/>
<g fill="#ffff00" stroke="#000" stroke-width="0.95"><circle cx="46.2" cy="400.8" r="2.4"/><circle cx="49.9" cy="400.3" r="2.4"/><circle cx="53.7" cy="399.9" r="2.4"/><circle cx="57.4" cy="399.7" r="2.4"/><circle cx="61.1" cy="401.2" r="2.4"/><circle cx="64.9" cy="409.1" r="2.4"/><circle cx="68.6" cy="421.5" r="2.4"/><circle cx="72.3" cy="434.6" r="2.4"/><circle cx="76.1" cy="444.5" r="2.4"/><circle cx="79.8" cy="448.2" r="2.4"/><circle cx="83.5" cy="446.0" r="2.4"/><circle cx="87.3" cy="443.0" r="2.4"/><circle cx="91.0" cy="440.1" r="2.4"/><circle cx="94.7" cy="437.6" r="2.4"/><circle cx="98.5" cy="435.8" r="2.4"/><circle cx="102.2" cy="434.8" r="2.4"/><circle cx="105.9" cy="434.7" r="2.4"/><circle cx="109.7" cy="439.2" r="2.4"/><circle cx="113.4" cy="449.1" r="2.4"/><circle cx="117.1" cy="460.8" r="2.4"/><circle cx="120.9" cy="470.0" r="2.4"/><circle cx="124.6" cy="473.5" r="2.4"/><circle cx="128.3" cy="470.0" r="2.4"/><circle cx="132.1" cy="465.0" r="2.4"/><circle cx="135.8" cy="460.2" r="2.4"/><circle cx="139.5" cy="456.1" r="2.4"/><circle cx="143.3" cy="453.2" r="2.4"/><circle cx="147.0" cy="451.5" r="2.4"/><circle cx="150.7" cy="451.2" r="2.4"/><circle cx="154.5" cy="455.7" r="2.4"/><circle cx="158.2" cy="465.4" r="2.4"/><circle cx="161.9" cy="476.8" r="2.4"/><circle cx="165.7" cy="485.9" r="2.4"/><circle cx="169.4" cy="489.3" r="2.4"/><circle cx="173.1" cy="486.1" r="2.4"/><circle cx="176.9" cy="481.6" r="2.4"/><circle cx="180.6" cy="477.3" r="2.4"/><circle cx="184.3" cy="473.6" r="2.4"/><circle cx="188.1" cy="471.0" r="2.4"/><circle cx="191.8" cy="469.5" r="2.4"/><circle cx="195.5" cy="469.2" r="2.4"/><circle cx="199.3" cy="474.1" r="2.4"/><circle cx="203.0" cy="484.6" r="2.4"/><circle cx="206.7" cy="497.1" r="2.4"/><circle cx="210.5" cy="506.9" r="2.4"/><circle cx="214.2" cy="510.6" r="2.4"/><circle cx="217.9" cy="507.5" r="2.4"/><circle cx="221.7" cy="503.1" r="2.4"/><circle cx="225.4" cy="498.8" r="2.4"/><circle cx="229.1" cy="495.2" r="2.4"/><circle cx="232.9" cy="492.6" r="2.4"/><circle cx="236.6" cy="491.2" r="2.4"/><circle cx="240.3" cy="490.9" r="2.4"/><circle cx="244.1" cy="495.1" r="2.4"/><circle cx="247.8" cy="504.3" r="2.4"/><circle cx="251.5" cy="515.0" r="2.4"/><circle cx="255.3" cy="523.6" r="2.4"/><circle cx="259.0" cy="526.8" r="2.4"/><circle cx="262.7" cy="523.3" r="2.4"/><circle cx="266.5" cy="518.4" r="2.4"/><circle cx="270.2" cy="513.7" r="2.4"/><circle cx="273.9" cy="509.7" r="2.4"/><circle cx="277.7" cy="506.8" r="2.4"/><circle cx="281.4" cy="505.2" r="2.4"/><circle cx="285.1" cy="504.8" r="2.4"/><circle cx="288.9" cy="508.8" r="2.4"/><circle cx="292.6" cy="517.4" r="2.4"/><circle cx="296.3" cy="527.5" r="2.4"/><circle cx="300.1" cy="535.5" r="2.4"/><circle cx="303.8" cy="538.6" r="2.4"/><circle cx="307.5" cy="535.3" r="2.4"/><circle cx="311.3" cy="530.8" r="2.4"/><circle cx="315.0" cy="526.3" r="2.4"/><circle cx="318.7" cy="522.6" r="2.4"/><circle cx="322.5" cy="519.9" r="2.4"/><circle cx="326.2" cy="518.4" r="2.4"/><circle cx="329.9" cy="518.1" r="2.4"/><circle cx="333.7" cy="522.8" r="2.4"/><circle cx="337.4" cy="533.1" r="2.4"/><circle cx="341.1" cy="545.2" r="2.4"/><circle cx="344.9" cy="554.8" r="2.4"/><circle cx="348.6" cy="558.4" r="2.4"/><circle cx="352.3" cy="555.6" r="2.4"/><circle cx="356.1" cy="551.7" r="2.4"/><circle cx="359.8" cy="547.9" r="2.4"/><circle cx="363.5" cy="544.7" r="2.4"/><circle cx="367.3" cy="542.4" r="2.4"/><circle cx="371.0" cy="541.1" r="2.4"/><circle cx="374.7" cy="540.9" r="2.4"/><circle cx="378.5" cy="545.6" r="2.4"/><circle cx="382.2" cy="555.9" r="2.4"/><circle cx="385.9" cy="568.0" r="2.4"/><circle cx="389.7" cy="577.6" r="2.4"/><circle cx="393.4" cy="581.2" r="2.4"/><circle cx="397.1" cy="577.8" r="2.4"/><circle cx="400.9" cy="573.0" r="2.4"/><circle cx="404.6" cy="568.3" r="2.4"/><circle cx="408.3" cy="564.4" r="2.4"/><circle cx="412.1" cy="561.5" r="2.4"/><circle cx="415.8" cy="559.9" r="2.4"/><circle cx="419.5" cy="559.6" r="2.4"/><circle cx="423.3" cy="564.3" r="2.4"/><circle cx="427.0" cy="574.5" r="2.4"/><circle cx="430.7" cy="586.5" r="2.4"/><circle cx="434.5" cy="596.0" r="2.4"/><circle cx="438.2" cy="599.6" r="2.4"/><circle cx="441.9" cy="596.3" r="2.4"/><circle cx="445.7" cy="591.6" r="2.4"/><circle cx="449.4" cy="587.1" r="2.4"/><circle cx="453.1" cy="583.3" r="2.4"/><circle cx="456.9" cy="580.6" r="2.4"/><circle cx="460.6" cy="579.0" r="2.4"/><circle cx="464.3" cy="578.7" r="2.4"/><circle cx="468.1" cy="583.4" r="2.4"/><circle cx="471.8" cy="593.6" r="2.4"/><circle cx="475.5" cy="605.6" r="2.4"/><circle cx="479.3" cy="615.1" r="2.4"/><circle cx="483.0" cy="618.7" r="2.4"/><circle cx="486.7" cy="612.3" r="2.4"/><circle cx="490.5" cy="606.4" r="2.4"/><circle cx="494.2" cy="604.4" r="2.4"/></g>
<g fill="#e4e4e4" stroke="#1a1a1a" stroke-width="1.0"><path d="M77.2 443.0L80.9 450.6L73.5 450.6Z"/><path d="M122.6 449.8L126.3 457.4L118.9 457.4Z"/><path d="M166.6 480.3L170.3 487.9L162.9 487.9Z"/><path d="M212.5 492.7L216.2 500.3L208.8 500.3Z"/><path d="M256.6 520.2L260.3 527.8L252.9 527.8Z"/><path d="M301.6 502.6L305.3 510.2L297.9 510.2Z"/><path d="M346.9 526.1L350.6 533.7L343.2 533.7Z"/><path d="M391.4 531.9L395.1 539.5L387.7 539.5Z"/><path d="M435.9 538.0L439.6 545.6L432.2 545.6Z"/><path d="M480.2 576.1L483.9 583.7L476.5 583.7Z"/></g>
<polyline fill="none" stroke="#a8a8a8" stroke-width="1.1" stroke-linejoin="round" points="62.5,348.9 77.2,446.8 107.6,389.2 122.6,447.5 151.8,398.1 167.1,472.4 196.7,424.6 212.5,478.5 241.8,428.7 256.6,500.4 286.7,436.2 301.6,477.4 331.6,428.8 346.9,494.9 376.7,433.9 390.9,495.1 421.0,443.2 435.9,495.1 465.9,446.4 480.2,527.5 510.9,477.9 525.6,536.4"/>
<g stroke-width="1.25"><circle cx="62.5" cy="348.9" r="3.25" fill="#eeeeee" stroke="#111"/><circle cx="62.5" cy="348.9" r="0.9" fill="#bdbdbd"/><circle cx="77.2" cy="446.8" r="3.25" fill="#eeeeee" stroke="#111"/><circle cx="77.2" cy="446.8" r="0.9" fill="#bdbdbd"/><circle cx="107.6" cy="389.2" r="3.25" fill="#eeeeee" stroke="#111"/><circle cx="107.6" cy="389.2" r="0.9" fill="#bdbdbd"/><circle cx="122.6" cy="447.5" r="3.25" fill="#eeeeee" stroke="#111"/><circle cx="122.6" cy="447.5" r="0.9" fill="#bdbdbd"/><circle cx="151.8" cy="398.1" r="3.25" fill="#eeeeee" stroke="#111"/><circle cx="151.8" cy="398.1" r="0.9" fill="#bdbdbd"/><circle cx="167.1" cy="472.4" r="3.25" fill="#eeeeee" stroke="#111"/><circle cx="167.1" cy="472.4" r="0.9" fill="#bdbdbd"/><circle cx="196.7" cy="424.6" r="3.25" fill="#eeeeee" stroke="#111"/><circle cx="196.7" cy="424.6" r="0.9" fill="#bdbdbd"/><circle cx="212.5" cy="478.5" r="3.25" fill="#eeeeee" stroke="#111"/><circle cx="212.5" cy="478.5" r="0.9" fill="#bdbdbd"/><circle cx="241.8" cy="428.7" r="3.25" fill="#eeeeee" stroke="#111"/><circle cx="241.8" cy="428.7" r="0.9" fill="#bdbdbd"/><circle cx="256.6" cy="500.4" r="3.25" fill="#eeeeee" stroke="#111"/><circle cx="256.6" cy="500.4" r="0.9" fill="#bdbdbd"/><circle cx="286.7" cy="436.2" r="3.25" fill="#eeeeee" stroke="#111"/><circle cx="286.7" cy="436.2" r="0.9" fill="#bdbdbd"/><circle cx="301.6" cy="477.4" r="3.25" fill="#eeeeee" stroke="#111"/><circle cx="301.6" cy="477.4" r="0.9" fill="#bdbdbd"/><circle cx="331.6" cy="428.8" r="3.25" fill="#eeeeee" stroke="#111"/><circle cx="331.6" cy="428.8" r="0.9" fill="#bdbdbd"/><circle cx="346.9" cy="494.9" r="3.25" fill="#eeeeee" stroke="#111"/><circle cx="346.9" cy="494.9" r="0.9" fill="#bdbdbd"/><circle cx="376.7" cy="433.9" r="3.25" fill="#eeeeee" stroke="#111"/><circle cx="376.7" cy="433.9" r="0.9" fill="#bdbdbd"/><circle cx="390.9" cy="495.1" r="3.25" fill="#eeeeee" stroke="#111"/><circle cx="390.9" cy="495.1" r="0.9" fill="#bdbdbd"/><circle cx="421.0" cy="443.2" r="3.25" fill="#eeeeee" stroke="#111"/><circle cx="421.0" cy="443.2" r="0.9" fill="#bdbdbd"/><circle cx="435.9" cy="495.1" r="3.25" fill="#eeeeee" stroke="#111"/><circle cx="435.9" cy="495.1" r="0.9" fill="#bdbdbd"/><circle cx="465.9" cy="446.4" r="3.25" fill="#eeeeee" stroke="#111"/><circle cx="465.9" cy="446.4" r="0.9" fill="#bdbdbd"/><circle cx="480.2" cy="527.5" r="3.25" fill="#eeeeee" stroke="#111"/><circle cx="480.2" cy="527.5" r="0.9" fill="#bdbdbd"/><circle cx="510.9" cy="477.9" r="3.25" fill="#eeeeee" stroke="#111"/><circle cx="510.9" cy="477.9" r="0.9" fill="#bdbdbd"/><circle cx="525.6" cy="536.4" r="3.25" fill="#eeeeee" stroke="#111"/><circle cx="525.6" cy="536.4" r="0.9" fill="#bdbdbd"/></g>
<rect x="54.6" y="549.6" width="223.0" height="74.7" fill="#fff" stroke="#1a1a1a" stroke-width="1.1"/>
<path d="M61.9 557.9H81.0" stroke="#6193f5" stroke-width="1.5"/>
<g fill="#3d7ef6" stroke="#0a0a20" stroke-width="0.8"><path d="M71.5 555.1L74.2 557.9L71.5 560.7L68.7 557.9Z"/></g>
<text x="84.2" y="561.6" font-family="Liberation Sans, sans-serif" stroke="#000" stroke-width="0.22" font-size="10.4" textLength="179.2" lengthAdjust="spacingAndGlyphs">GRACE (Wouters et al. 2019, updated)</text>
<path d="M61.9 573.1H81.0" stroke="#ff3838" stroke-width="1.5"/>
<g fill="#f20000" stroke="#000" stroke-width="0.7"><path d="M71.5 570.1L74.0 575.1L69.0 575.1Z"/></g>
<text x="84.2" y="576.8" font-family="Liberation Sans, sans-serif" stroke="#000" stroke-width="0.22" font-size="10.4" textLength="190.6" lengthAdjust="spacingAndGlyphs">CryoSat-2 (Foresta et al., 2016, updated)</text>
<path d="M61.9 587.7H81.0" stroke="#000" stroke-width="1.5"/>
<g fill="#ffff00" stroke="#000" stroke-width="0.9"><circle cx="71.5" cy="587.7" r="2.5"/></g>
<text x="84.2" y="591.4" font-family="Liberation Sans, sans-serif" stroke="#000" stroke-width="0.22" font-size="10.4" textLength="140.6" lengthAdjust="spacingAndGlyphs">ASTER (Hugonnet et al., 2021)</text>
<g fill="#e4e4e4" stroke="#1a1a1a" stroke-width="1.1"><path d="M71.5 598.7L75.2 605.9L67.7 605.9Z"/></g>
<text x="84.2" y="606.7" font-family="Liberation Sans, sans-serif" stroke="#000" stroke-width="0.22" font-size="10.4" textLength="162.4" lengthAdjust="spacingAndGlyphs">In situ (Aðalgeirsdóttir et al., 2020)</text>
<path d="M61.9 617.5H81.0" stroke="#a8a8a8" stroke-width="1.5"/>
<g stroke-width="1.2"><circle cx="71.5" cy="617.5" r="3.1" fill="#eeeeee" stroke="#111"/><circle cx="71.5" cy="617.5" r="0.9" fill="#bdbdbd"/></g>
<text x="84.2" y="621.2" font-family="Liberation Sans, sans-serif" stroke="#000" stroke-width="0.22" font-size="10.4" textLength="156.9" lengthAdjust="spacingAndGlyphs">In situ, surface mass balance only</text>
</svg></body></html>
